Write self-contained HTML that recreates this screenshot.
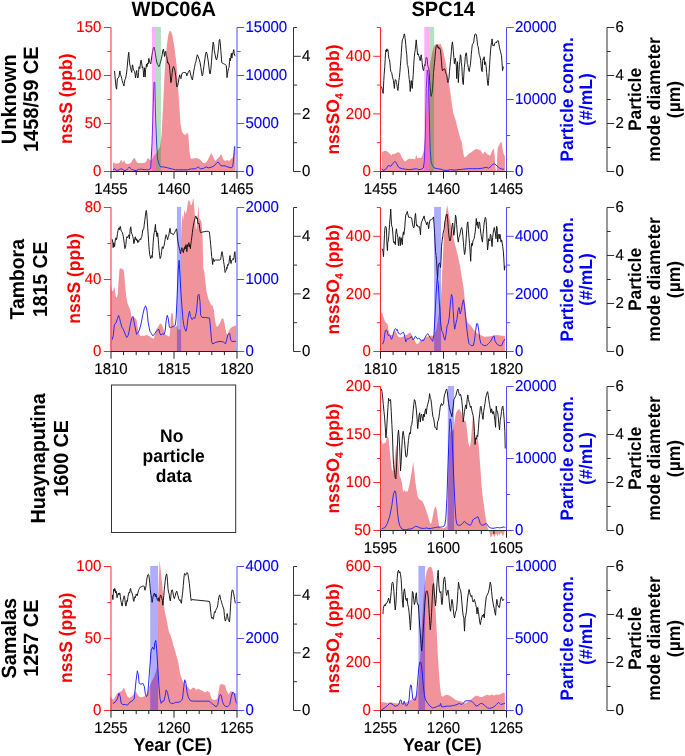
<!DOCTYPE html>
<html><head><meta charset="utf-8"><style>
html,body{margin:0;padding:0;background:#fff;width:685px;height:756px;overflow:hidden}
svg{display:block;will-change:transform}
text{font-family:"Liberation Sans",sans-serif;text-rendering:geometricPrecision}
</style></head><body>
<svg width="685" height="756" viewBox="0 0 685 756" font-family='"Liberation Sans", sans-serif'>
<rect width="685" height="756" fill="#fff"/>
<text x="0" y="0" font-size="20" fill="#000" text-anchor="middle" font-weight="bold" transform="translate(173.8 16) scale(1 1.04)">WDC06A</text>
<text x="0" y="0" font-size="20" fill="#000" text-anchor="middle" font-weight="bold" transform="translate(443.2 16) scale(1 1.04)">SPC14</text>
<path d="M112.96,171.5 L112.96,162.89 L113.69,162.27 L114.45,163.03 L115.59,163.41 L117.11,163.41 L118.25,163.41 L119.39,162.65 L120.15,161.51 L120.91,160.37 L121.52,159.99 L122.05,161.13 L122.81,162.65 L123.57,161.13 L124.1,160.37 L124.7,161.13 L125.46,163.41 L126.6,163.79 L127.74,164.02 L128.88,163.79 L130.02,163.41 L130.78,162.65 L131.54,161.89 L132.3,160.37 L133.06,159.23 L134.2,157.71 L134.96,158.47 L135.71,159.99 L136.47,161.51 L137.23,162.65 L137.99,163.03 L139.13,163.03 L140.27,163.03 L141.41,163.03 L142.55,163.03 L143.69,162.65 L144.83,162.65 L145.59,162.27 L146.34,161.13 L147.1,159.23 L147.86,158.09 L148.62,158.47 L149.38,159.61 L150.14,159.99 L150.9,160.37 L151.66,160.37 L152.42,158.85 L153.18,157.33 L153.94,155.82 L154.7,155.06 L155.46,154.3 L156.22,153.54 L157.62,150.98 L160,147.02 L161.59,135.11 L163.18,103.37 L164.57,73.6 L165.96,53.76 L167.55,39.87 L168.54,33.92 L169.53,30.94 L171.12,31.54 L172.51,35.9 L174.49,47.81 L176.48,63.68 L177.87,83.52 L179.06,103.37 L180.45,123.21 L181.84,131.14 L183.43,134.12 L185.41,135.11 L187,132.73 L188.39,135.11 L189.38,150.98 L190.37,156.94 L191.37,158.92 L193.35,158.52 L196.33,157.93 L199.31,158.92 L201.29,160.9 L203.28,162.89 L205.26,162.89 L207.25,160.9 L209.23,156.94 L211.22,152.97 L213.2,156.94 L215.19,160.9 L217.17,158.92 L219.16,156.94 L221.14,153.96 L223.13,158.92 L225.11,160.9 L227.09,159.91 L229.08,160.9 L231.06,158.92 L233.05,156.94 L235.03,147.02 L235.63,147.02 L235.63,171.5Z" fill="#f1939a" stroke="none"/>
<path d="M114.55,70.98 L115.21,78.93 L116.14,87.8 L116.61,89.21 L117.36,78.93 L118.01,77.99 L118.94,77.06 L119.88,70.98 L120.35,74.25 L121.09,76.12 L121.75,78.46 L122.21,80.79 L123.15,83.6 L123.9,85.93 L124.27,83.6 L124.83,79.86 L125.49,78.93 L126.42,74.25 L127.07,68.64 L127.64,62.1 L128.29,55.56 L128.76,52.29 L129.22,58.36 L129.69,63.97 L130.44,67.24 L131.09,70.05 L131.75,72.38 L132.31,64.91 L132.68,64.91 L133.24,68.64 L133.9,70.51 L134.55,71.45 L135.11,74.25 L135.49,77.99 L136.05,73.32 L136.7,70.51 L137.17,75.19 L137.64,77.99 L138.1,77.52 L138.57,72.38 L139.04,66.78 L139.79,68.64 L140.44,63.04 L141.09,60.23 L141.65,63.04 L142.31,67.71 L142.78,66.78 L143.24,70.51 L143.71,77.06 L144.18,72.38 L144.64,67.71 L145.11,77.06 L145.58,69.58 L146.05,67.71 L146.51,63.97 L146.98,66.78 L147.64,63.04 L148.2,63.97 L148.85,58.36 L149.5,61.17 L150.07,63.04 L150.72,63.97 L151.19,61.17 L151.93,55.56 L152.59,51.36 L153.24,48.55 L153.99,47.15 L154.74,49.95 L155.39,53.69 L156.05,58.36 L156.79,62.1 L157.54,64.44 L158.2,65.37 L158.85,66.78 L159.41,65.84 L160.07,63.5 L160.72,61.17 L161.47,58.36 L162.21,54.63 L162.87,50.42 L163.52,49.02 L164.08,53.69 L164.55,56.5 L165.02,51.82 L165.67,51.36 L166.14,55.56 L166.61,56.5 L167.07,58.36 L167.54,63.04 L168.01,62.1 L168.48,63.97 L168.94,63.97 L169.41,65.84 L169.88,70.51 L170.35,76.12 L170.81,82.66 L171.28,81.73 L171.75,77.06 L172.21,72.38 L172.68,68.64 L173.47,66.45 L173.93,67.38 L174.87,70.19 L175.8,76.73 L176.55,85.14 L176.93,87.01 L177.67,85.61 L178.42,82.34 L179.07,77.66 L179.73,74.86 L180.29,77.66 L180.94,78.6 L181.6,74.86 L182.35,72.99 L183.28,72.52 L184.21,72.52 L185.15,72.52 L186.08,72.99 L186.83,75.79 L187.49,73.93 L188.14,72.52 L188.89,71.12 L189.64,70.19 L190.29,72.99 L190.94,75.79 L191.69,78.6 L192.44,80 L193.09,75.79 L193.75,71.12 L194.5,67.38 L195.24,63.64 L195.9,61.78 L196.55,58.04 L197.3,54.77 L198.05,56.17 L198.7,58.04 L199.36,59.91 L200.1,62.71 L200.85,67.38 L201.5,72.06 L202.16,75.79 L202.72,74.86 L203.37,70.19 L204.03,65.51 L204.78,59.91 L205.52,54.3 L206.27,51.96 L206.93,53.36 L207.58,57.1 L208.33,61.78 L208.98,67.38 L209.64,72.99 L210.2,73.93 L210.85,69.25 L211.5,61.78 L212.07,53.36 L212.72,45.89 L213.19,42.15 L213.84,44.95 L214.31,50.56 L215.06,54.3 L215.8,58.04 L216.46,59.91 L217.11,58.04 L217.86,53.36 L218.61,46.82 L219.26,40.28 L219.73,39.35 L220.29,43.08 L220.85,50.56 L221.41,58.04 L221.79,62.71 L222.53,63.18 L223.47,63.64 L224.4,64.11 L225.34,64.58 L226.27,65.51 L226.74,72.06 L227.02,77.66 L227.39,74.86 L227.95,71.12 L228.51,68.32 L229.07,67.38 L229.54,61.78 L230.01,58.04 L230.48,60.84 L230.94,56.17 L231.41,53.36 L231.88,58.04 L232.35,53.36 L232.81,54.3 L233.28,51.5 L233.75,49.63 L234.21,53.36 L234.68,55.23 L235.15,56.17" fill="none" stroke="#111" stroke-width="0.95" stroke-linejoin="round"/>
<path d="M112.96,169.83 L114.99,168.72 L115.59,169.86 L116.35,170.24 L117.11,170.39 L118.25,170.09 L119.39,169.48 L120.53,169.1 L121.67,168.88 L122.81,169.48 L123.95,170.24 L125.08,170.62 L126.22,170.24 L127.36,169.1 L128.5,167.97 L129.26,167.21 L130.02,167.59 L130.78,168.72 L131.54,169.48 L132.68,169.64 L133.82,170.09 L134.96,170.39 L136.09,170.62 L137.23,170.09 L138.37,169.48 L139.51,169.33 L140.65,169.1 L141.79,169.26 L142.93,169.48 L144.07,169.64 L145.21,169.64 L146.34,169.79 L147.48,169.71 L148.62,169.64 L149.61,169.48 L150.22,168.34 L150.68,168.84 L152.07,143.05 L153.26,103.37 L154.05,81.94 L154.84,82.53 L155.64,119.24 L156.63,143.05 L157.62,158.92 L159.21,164.87 L160.6,166.86 L163.58,166.86 L167.55,167.85 L171.52,168.84 L175.49,169.83 L179.46,169.83 L183.43,169.83 L187.4,169.83 L191.37,168.84 L195.34,168.84 L198.31,166.86 L200.3,168.84 L203.28,168.44 L206.25,166.86 L208.24,167.85 L211.22,167.25 L214.19,165.87 L216.77,162.89 L218.16,161.9 L219.55,163.88 L221.14,165.87 L223.13,165.87 L225.11,165.87 L227.09,166.86 L229.08,167.25 L231.06,167.85 L232.65,166.86 L233.65,158.92 L234.44,147.02 L235.03,146.02" fill="none" stroke="#2a2aff" stroke-width="1.0" stroke-linejoin="round"/>
<rect x="152" y="26.9" width="4.1" height="144.6" fill="#ff2af0" fill-opacity="0.38"/>
<rect x="156.1" y="26.9" width="4.8" height="144.6" fill="#00a028" fill-opacity="0.3"/>
<line x1="111" y1="27.5" x2="111" y2="171.5" stroke="#ff2a2a" stroke-width="1"/>
<line x1="111" y1="171.5" x2="103.8" y2="171.5" stroke="#ff2a2a" stroke-width="1"/>
<text x="0" y="0" font-size="15" fill="#ff0000" text-anchor="end" stroke="#ff0000" stroke-width="0.15" transform="translate(101.4 176.4) scale(1 1.04)">0</text>
<line x1="111" y1="123.5" x2="103.8" y2="123.5" stroke="#ff2a2a" stroke-width="1"/>
<text x="0" y="0" font-size="15" fill="#ff0000" text-anchor="end" stroke="#ff0000" stroke-width="0.15" transform="translate(101.4 128.4) scale(1 1.04)">50</text>
<line x1="111" y1="75.5" x2="103.8" y2="75.5" stroke="#ff2a2a" stroke-width="1"/>
<text x="0" y="0" font-size="15" fill="#ff0000" text-anchor="end" stroke="#ff0000" stroke-width="0.15" transform="translate(101.4 80.4) scale(1 1.04)">100</text>
<line x1="111" y1="27.5" x2="103.8" y2="27.5" stroke="#ff2a2a" stroke-width="1"/>
<text x="0" y="0" font-size="15" fill="#ff0000" text-anchor="end" stroke="#ff0000" stroke-width="0.15" transform="translate(101.4 32.4) scale(1 1.04)">150</text>
<line x1="111" y1="147.5" x2="107.4" y2="147.5" stroke="#ff2a2a" stroke-width="1"/>
<line x1="111" y1="99.5" x2="107.4" y2="99.5" stroke="#ff2a2a" stroke-width="1"/>
<line x1="111" y1="51.5" x2="107.4" y2="51.5" stroke="#ff2a2a" stroke-width="1"/>
<line x1="237" y1="27.5" x2="237" y2="171.5" stroke="#5050ff" stroke-width="1"/>
<line x1="237" y1="171.5" x2="244.2" y2="171.5" stroke="#5050ff" stroke-width="1"/>
<text x="0" y="0" font-size="15" fill="#0000ff" text-anchor="start" stroke="#0000ff" stroke-width="0.15" transform="translate(245.5 176.4) scale(1 1.04)">0</text>
<line x1="237" y1="123.5" x2="244.2" y2="123.5" stroke="#5050ff" stroke-width="1"/>
<text x="0" y="0" font-size="15" fill="#0000ff" text-anchor="start" stroke="#0000ff" stroke-width="0.15" transform="translate(245.5 128.4) scale(1 1.04)">5000</text>
<line x1="237" y1="75.5" x2="244.2" y2="75.5" stroke="#5050ff" stroke-width="1"/>
<text x="0" y="0" font-size="15" fill="#0000ff" text-anchor="start" stroke="#0000ff" stroke-width="0.15" transform="translate(245.5 80.4) scale(1 1.04)">10000</text>
<line x1="237" y1="27.5" x2="244.2" y2="27.5" stroke="#5050ff" stroke-width="1"/>
<text x="0" y="0" font-size="15" fill="#0000ff" text-anchor="start" stroke="#0000ff" stroke-width="0.15" transform="translate(245.5 32.4) scale(1 1.04)">15000</text>
<line x1="237" y1="147.5" x2="240.6" y2="147.5" stroke="#5050ff" stroke-width="1"/>
<line x1="237" y1="99.5" x2="240.6" y2="99.5" stroke="#5050ff" stroke-width="1"/>
<line x1="237" y1="51.5" x2="240.6" y2="51.5" stroke="#5050ff" stroke-width="1"/>
<line x1="293.5" y1="27.5" x2="293.5" y2="171.5" stroke="#333" stroke-width="1"/>
<line x1="293.5" y1="171.5" x2="300.7" y2="171.5" stroke="#333" stroke-width="1"/>
<text x="0" y="0" font-size="15" fill="#000" text-anchor="start" stroke="#000" stroke-width="0.15" transform="translate(302 176.4) scale(1 1.04)">0</text>
<line x1="293.5" y1="113.9" x2="300.7" y2="113.9" stroke="#333" stroke-width="1"/>
<text x="0" y="0" font-size="15" fill="#000" text-anchor="start" stroke="#000" stroke-width="0.15" transform="translate(302 118.8) scale(1 1.04)">2</text>
<line x1="293.5" y1="56.3" x2="300.7" y2="56.3" stroke="#333" stroke-width="1"/>
<text x="0" y="0" font-size="15" fill="#000" text-anchor="start" stroke="#000" stroke-width="0.15" transform="translate(302 61.2) scale(1 1.04)">4</text>
<line x1="293.5" y1="142.7" x2="297.1" y2="142.7" stroke="#333" stroke-width="1"/>
<line x1="293.5" y1="85.1" x2="297.1" y2="85.1" stroke="#333" stroke-width="1"/>
<line x1="293.5" y1="27.5" x2="297.1" y2="27.5" stroke="#333" stroke-width="1"/>
<line x1="111" y1="171.5" x2="237" y2="171.5" stroke="#222" stroke-width="1"/>
<line x1="111" y1="171.5" x2="111" y2="178.7" stroke="#222" stroke-width="1"/>
<text x="0" y="0" font-size="15" fill="#000" text-anchor="middle" stroke="#000" stroke-width="0.15" transform="translate(111 193.7) scale(1 1.04)">1455</text>
<line x1="123.6" y1="171.5" x2="123.6" y2="175.1" stroke="#222" stroke-width="1"/>
<line x1="136.2" y1="171.5" x2="136.2" y2="175.1" stroke="#222" stroke-width="1"/>
<line x1="148.8" y1="171.5" x2="148.8" y2="175.1" stroke="#222" stroke-width="1"/>
<line x1="161.4" y1="171.5" x2="161.4" y2="175.1" stroke="#222" stroke-width="1"/>
<line x1="174" y1="171.5" x2="174" y2="178.7" stroke="#222" stroke-width="1"/>
<text x="0" y="0" font-size="15" fill="#000" text-anchor="middle" stroke="#000" stroke-width="0.15" transform="translate(174 193.7) scale(1 1.04)">1460</text>
<line x1="186.6" y1="171.5" x2="186.6" y2="175.1" stroke="#222" stroke-width="1"/>
<line x1="199.2" y1="171.5" x2="199.2" y2="175.1" stroke="#222" stroke-width="1"/>
<line x1="211.8" y1="171.5" x2="211.8" y2="175.1" stroke="#222" stroke-width="1"/>
<line x1="224.4" y1="171.5" x2="224.4" y2="175.1" stroke="#222" stroke-width="1"/>
<line x1="237" y1="171.5" x2="237" y2="178.7" stroke="#222" stroke-width="1"/>
<text x="0" y="0" font-size="15" fill="#000" text-anchor="middle" stroke="#000" stroke-width="0.15" transform="translate(237 193.7) scale(1 1.04)">1465</text>
<path d="M381.88,171.5 L381.88,152.19 L382.6,151.68 L383.62,151.17 L385.15,150.66 L386.69,151.17 L387.71,151.68 L388.73,152.7 L389.75,153.72 L390.77,154.74 L391.28,155.77 L392.1,154.23 L392.82,153.72 L393.84,154.23 L394.86,153.72 L395.88,153.21 L396.9,152.7 L397.93,152.19 L398.95,152.5 L399.97,153.21 L400.99,155.25 L402.01,157.81 L403.04,159.34 L404.06,160.87 L405.08,161.39 L406.1,160.87 L407.12,159.85 L408.15,159.34 L409.17,158.83 L410.19,158.83 L411.21,158.83 L412.23,159.04 L413.25,158.83 L414.28,159.34 L415.3,158.83 L416.01,155.77 L416.63,155.25 L417.04,157.81 L417.85,158.32 L418.87,157.81 L419.9,158.01 L420.92,158.01 L421.94,156.79 L422.76,153.72 L423.47,151.68 L424.32,147.16 L425.79,125.13 L427.5,88.42 L429.95,63.95 L432.39,51.71 L434.11,45.59 L436.06,43.88 L438.51,44.37 L440.96,44.37 L443.4,51.71 L445.85,63.95 L448.3,78.63 L450.74,95.76 L453.19,112.9 L455.64,120.24 L458.08,130.03 L460.53,139.82 L461.46,140.66 L462.69,148.83 L463.71,154.96 L464.52,157.52 L465.55,157.01 L467.08,155.47 L468.61,153.94 L470.15,152.92 L471.68,151.9 L473.21,150.87 L474.74,149.85 L475.77,149.04 L477.3,149.34 L478.83,149.65 L480.36,150.36 L481.39,151.39 L482.41,153.43 L483.43,153.94 L484.14,151.39 L484.96,151.9 L485.98,152.92 L487.01,153.94 L488.03,154.45 L489.05,154.96 L490.07,155.98 L490.89,153.94 L491.6,151.9 L492.63,150.36 L493.34,148.83 L493.95,149.34 L494.67,155.98 L495.18,164.16 L495.69,169.27 L496.2,170.29 L496.71,170.29 L497.22,155.98 L497.74,147.81 L498.45,146.79 L499.27,144.74 L500.29,142.7 L501.31,141.68 L501.82,143.72 L502.54,148.83 L503.36,152.92 L504.17,154.96 L504.89,155.98 L504.89,171.5Z" fill="#f1939a" stroke="none"/>
<path d="M381.49,86.51 L382.48,90.48 L383.17,93.45 L383.77,80.56 L384.17,74.6 L384.76,66.67 L385.16,59.72 L385.56,52.78 L385.95,49.8 L386.45,51.79 L386.94,48.81 L387.44,50.79 L387.94,49.8 L388.43,54.76 L388.93,58.73 L389.42,59.72 L389.92,62.7 L390.42,68.65 L390.91,71.63 L391.71,72.62 L392.4,76.59 L392.9,78.57 L393.39,80.56 L393.89,84.52 L394.38,88.49 L394.88,81.55 L395.38,79.56 L395.87,80.06 L396.37,82.54 L396.87,84.52 L397.36,88.49 L397.86,90.48 L398.35,86.51 L398.85,80.56 L399.35,77.58 L399.84,72.62 L400.34,66.67 L400.83,59.72 L401.33,52.78 L401.83,44.84 L402.32,39.88 L402.82,38.89 L403.31,37.9 L403.81,35.91 L404.31,33.93 L404.8,35.91 L405.3,39.88 L405.79,44.84 L406.29,50.79 L406.79,54.76 L407.28,64.68 L407.78,65.67 L408.27,68.65 L408.77,74.6 L409.27,79.56 L409.76,83.53 L410.26,91.47 L410.75,84.52 L411.25,80.56 L411.75,85.52 L412.24,88.49 L412.74,80.56 L413.23,74.6 L413.73,64.68 L414.23,57.74 L414.72,52.78 L415.22,49.8 L415.71,44.84 L416.21,39.88 L416.71,44.84 L417.2,50.79 L417.7,54.76 L418.19,53.77 L418.69,55.75 L419.19,56.75 L419.68,58.73 L420.18,60.71 L420.67,57.74 L421.17,54.76 L421.67,57.74 L422.16,62.7 L422.66,67.66 L423.15,69.64 L423.65,70.63 L424.15,66.67 L424.64,64.68 L425.14,65.67 L425.63,60.71 L426.13,57.74 L426.63,57.24 L427.12,58.73 L427.62,64.68 L428.12,66.67 L428.61,68.65 L429.11,72.62 L429.6,80.56 L430.1,86.51 L430.6,92.46 L431.09,96.43 L431.59,94.44 L432.08,92.46 L432.58,88.49 L433.08,80.56 L433.57,72.62 L434.07,66.67 L434.56,62.7 L435.06,56.75 L435.56,50.79 L436.05,46.83 L436.55,45.83 L437.04,44.84 L437.54,45.83 L438.04,47.82 L438.53,46.83 L439.03,48.81 L439.52,47.82 L440.02,48.81 L440.52,50.79 L441.01,55.75 L441.51,61.71 L442,68.65 L442.5,70.63 L442.99,69.64 L443.49,70.14 L443.98,69.15 L444.48,68.65 L444.98,69.64 L445.47,71.63 L445.97,73.61 L446.46,74.6 L446.96,76.59 L447.46,80.56 L447.95,82.54 L448.45,80.56 L448.94,78.57 L449.44,71.63 L449.94,66.67 L450.43,61.71 L450.93,56.75 L451.42,50.79 L451.92,44.84 L452.42,41.87 L452.91,45.83 L453.41,51.79 L453.9,57.74 L454.4,63.69 L454.9,60.71 L455.39,58.23 L455.89,62.7 L456.38,66.67 L456.68,78.57 L457.08,69.64 L457.48,61.71 L457.87,71.63 L458.37,82.54 L458.87,72.62 L459.36,64.68 L459.86,61.71 L460.35,54.76 L460.85,55.75 L461.35,62.7 L461.84,66.67 L462.34,76.59 L462.83,82.54 L463.33,84.52 L463.83,74.6 L464.32,67.66 L464.82,62.7 L465.31,56.75 L465.81,53.77 L466.31,52.78 L466.8,56.75 L467.3,63.69 L467.79,64.68 L468.29,67.66 L468.79,70.63 L469.28,71.63 L469.78,67.66 L470.27,65.67 L470.77,60.71 L471.27,54.76 L471.76,49.8 L472.26,44.84 L472.75,43.85 L473.25,43.35 L473.75,41.87 L474.24,37.9 L474.74,34.92 L475.23,33.93 L475.73,33.93 L476.23,34.42 L476.72,36.9 L477.22,41.87 L477.71,45.83 L478.21,46.83 L478.71,50.79 L479.2,54.76 L479.7,55.75 L480.19,57.74 L480.69,60.71 L481.19,66.67 L481.68,70.63 L482.18,71.63 L482.67,60.71 L483.17,58.73 L483.67,59.72 L484.16,56.75 L484.66,64.68 L485.15,61.71 L485.65,62.7 L486.15,66.67 L486.64,72.62 L487.14,77.58 L487.63,83.53 L488.13,85.52 L488.63,80.56 L489.12,72.62 L489.62,64.68 L490.12,56.75 L490.61,49.8 L491.11,44.84 L491.6,42.86 L492.1,38.89 L492.6,44.84 L493.09,45.83 L493.59,44.84 L494.08,45.83 L494.58,43.85 L495.08,42.86 L495.57,42.36 L496.07,41.87 L496.56,42.86 L497.06,41.37 L497.56,40.87 L498.05,40.38 L498.55,41.87 L499.04,44.84 L499.54,47.82 L500.04,49.8 L500.53,51.79 L501.03,53.77 L501.52,55.75 L502.02,62.7 L502.52,70.63 L503.01,68.65 L503.51,66.67" fill="none" stroke="#111" stroke-width="0.95" stroke-linejoin="round"/>
<path d="M381.74,169.19 L383.46,170.41 L385.9,169.19 L388.35,165.51 L390.8,166.25 L393.24,163.07 L394.96,161.35 L396.43,163.07 L398.14,166.74 L399.85,167.96 L402.3,168.7 L405.48,169.19 L409.15,169.67 L412.82,169.19 L416.49,168.7 L418.94,169.67 L421.38,169.19 L423.34,167.96 L424.32,161.84 L425.3,137.37 L426.28,88.42 L427.25,70.07 L428.23,76.18 L429.21,112.9 L430.19,149.61 L431.17,161.84 L432.39,165.51 L434.11,167.96 L437.29,168.7 L440.96,169.19 L443.4,170.16 L447.07,170.41 L450.74,169.67 L454.41,170.16 L458.08,169.67 L462.98,169.19 L467.87,168.7 L472.76,168.7 L477.66,168.7 L482.55,168.21 L486.22,167.23 L488.67,168.21 L491.12,166.25 L492.83,164.29 L494.3,163.8 L496.01,164.78 L497.72,166.74 L499.68,168.21 L502.13,169.19 L504.08,169.19" fill="none" stroke="#2a2aff" stroke-width="1.0" stroke-linejoin="round"/>
<rect x="424.3" y="26.9" width="4.9" height="144.6" fill="#ff2af0" fill-opacity="0.38"/>
<rect x="429.2" y="26.9" width="4.9" height="144.6" fill="#00a028" fill-opacity="0.3"/>
<line x1="380.5" y1="27.5" x2="380.5" y2="171.5" stroke="#ff2a2a" stroke-width="1"/>
<line x1="380.5" y1="171.5" x2="373.3" y2="171.5" stroke="#ff2a2a" stroke-width="1"/>
<text x="0" y="0" font-size="15" fill="#ff0000" text-anchor="end" stroke="#ff0000" stroke-width="0.15" transform="translate(370.9 176.4) scale(1 1.04)">0</text>
<line x1="380.5" y1="113.9" x2="373.3" y2="113.9" stroke="#ff2a2a" stroke-width="1"/>
<text x="0" y="0" font-size="15" fill="#ff0000" text-anchor="end" stroke="#ff0000" stroke-width="0.15" transform="translate(370.9 118.8) scale(1 1.04)">200</text>
<line x1="380.5" y1="56.3" x2="373.3" y2="56.3" stroke="#ff2a2a" stroke-width="1"/>
<text x="0" y="0" font-size="15" fill="#ff0000" text-anchor="end" stroke="#ff0000" stroke-width="0.15" transform="translate(370.9 61.2) scale(1 1.04)">400</text>
<line x1="380.5" y1="142.7" x2="376.9" y2="142.7" stroke="#ff2a2a" stroke-width="1"/>
<line x1="380.5" y1="85.1" x2="376.9" y2="85.1" stroke="#ff2a2a" stroke-width="1"/>
<line x1="380.5" y1="27.5" x2="376.9" y2="27.5" stroke="#ff2a2a" stroke-width="1"/>
<line x1="506.5" y1="27.5" x2="506.5" y2="171.5" stroke="#5050ff" stroke-width="1"/>
<line x1="506.5" y1="171.5" x2="513.7" y2="171.5" stroke="#5050ff" stroke-width="1"/>
<text x="0" y="0" font-size="15" fill="#0000ff" text-anchor="start" stroke="#0000ff" stroke-width="0.15" transform="translate(515 176.4) scale(1 1.04)">0</text>
<line x1="506.5" y1="99.5" x2="513.7" y2="99.5" stroke="#5050ff" stroke-width="1"/>
<text x="0" y="0" font-size="15" fill="#0000ff" text-anchor="start" stroke="#0000ff" stroke-width="0.15" transform="translate(515 104.4) scale(1 1.04)">10000</text>
<line x1="506.5" y1="27.5" x2="513.7" y2="27.5" stroke="#5050ff" stroke-width="1"/>
<text x="0" y="0" font-size="15" fill="#0000ff" text-anchor="start" stroke="#0000ff" stroke-width="0.15" transform="translate(515 32.4) scale(1 1.04)">20000</text>
<line x1="506.5" y1="135.5" x2="510.1" y2="135.5" stroke="#5050ff" stroke-width="1"/>
<line x1="506.5" y1="63.5" x2="510.1" y2="63.5" stroke="#5050ff" stroke-width="1"/>
<line x1="607" y1="27.5" x2="607" y2="171.5" stroke="#333" stroke-width="1"/>
<line x1="607" y1="171.5" x2="614.2" y2="171.5" stroke="#333" stroke-width="1"/>
<text x="0" y="0" font-size="15" fill="#000" text-anchor="start" stroke="#000" stroke-width="0.15" transform="translate(615.5 176.4) scale(1 1.04)">0</text>
<line x1="607" y1="123.5" x2="614.2" y2="123.5" stroke="#333" stroke-width="1"/>
<text x="0" y="0" font-size="15" fill="#000" text-anchor="start" stroke="#000" stroke-width="0.15" transform="translate(615.5 128.4) scale(1 1.04)">2</text>
<line x1="607" y1="75.5" x2="614.2" y2="75.5" stroke="#333" stroke-width="1"/>
<text x="0" y="0" font-size="15" fill="#000" text-anchor="start" stroke="#000" stroke-width="0.15" transform="translate(615.5 80.4) scale(1 1.04)">4</text>
<line x1="607" y1="27.5" x2="614.2" y2="27.5" stroke="#333" stroke-width="1"/>
<text x="0" y="0" font-size="15" fill="#000" text-anchor="start" stroke="#000" stroke-width="0.15" transform="translate(615.5 32.4) scale(1 1.04)">6</text>
<line x1="607" y1="147.5" x2="610.6" y2="147.5" stroke="#333" stroke-width="1"/>
<line x1="607" y1="99.5" x2="610.6" y2="99.5" stroke="#333" stroke-width="1"/>
<line x1="607" y1="51.5" x2="610.6" y2="51.5" stroke="#333" stroke-width="1"/>
<line x1="380.5" y1="171.5" x2="506.5" y2="171.5" stroke="#222" stroke-width="1"/>
<line x1="380.5" y1="171.5" x2="380.5" y2="178.7" stroke="#222" stroke-width="1"/>
<text x="0" y="0" font-size="15" fill="#000" text-anchor="middle" stroke="#000" stroke-width="0.15" transform="translate(380.5 193.7) scale(1 1.04)">1455</text>
<line x1="393.1" y1="171.5" x2="393.1" y2="175.1" stroke="#222" stroke-width="1"/>
<line x1="405.7" y1="171.5" x2="405.7" y2="175.1" stroke="#222" stroke-width="1"/>
<line x1="418.3" y1="171.5" x2="418.3" y2="175.1" stroke="#222" stroke-width="1"/>
<line x1="430.9" y1="171.5" x2="430.9" y2="175.1" stroke="#222" stroke-width="1"/>
<line x1="443.5" y1="171.5" x2="443.5" y2="178.7" stroke="#222" stroke-width="1"/>
<text x="0" y="0" font-size="15" fill="#000" text-anchor="middle" stroke="#000" stroke-width="0.15" transform="translate(443.5 193.7) scale(1 1.04)">1460</text>
<line x1="456.1" y1="171.5" x2="456.1" y2="175.1" stroke="#222" stroke-width="1"/>
<line x1="468.7" y1="171.5" x2="468.7" y2="175.1" stroke="#222" stroke-width="1"/>
<line x1="481.3" y1="171.5" x2="481.3" y2="175.1" stroke="#222" stroke-width="1"/>
<line x1="493.9" y1="171.5" x2="493.9" y2="175.1" stroke="#222" stroke-width="1"/>
<line x1="506.5" y1="171.5" x2="506.5" y2="178.7" stroke="#222" stroke-width="1"/>
<text x="0" y="0" font-size="15" fill="#000" text-anchor="middle" stroke="#000" stroke-width="0.15" transform="translate(506.5 193.7) scale(1 1.04)">1465</text>
<path d="M110.51,351.5 L110.51,282.62 L111.77,290.16 L113.03,291.41 L114.28,286.39 L114.91,290.16 L115.79,296.44 L116.8,297.7 L117.8,293.93 L118.68,278.85 L119.56,268.8 L120.57,268.17 L121.82,268.8 L123.33,269.42 L124.09,272.57 L124.97,282.62 L125.85,292.67 L126.85,300.21 L127.48,303.35 L128.36,305.24 L129.36,307.75 L130.37,310.26 L131.25,315.29 L131.88,317.8 L133.14,317.8 L134.39,317.8 L135.65,318.43 L136.65,320.32 L137.53,326.6 L138.79,332.88 L140.05,335.4 L141.3,336.02 L142.56,335.4 L143.82,336.02 L145.07,335.4 L146.33,334.77 L147.59,335.4 L148.84,336.02 L150.1,336.65 L151.36,337.91 L152.61,338.54 L153.87,338.54 L155.13,334.14 L156.39,329.11 L157.64,327.86 L158.9,325.34 L160.16,323.46 L161.41,324.09 L162.67,326.6 L163.93,330.37 L165.18,334.14 L166.44,335.4 L167.7,335.4 L168.95,336.65 L169.58,335.4 L170.21,330.37 L170.84,316.55 L171.47,312.78 L172.09,314.03 L172.72,312.78 L173.35,322.83 L174.61,326.6 L175.86,326.6 L177.12,325.34 L177.4,327 L178,329.5 L180.6,329.5 L180.9,280 L181.1,240 L181.6,225 L182.5,215 L183.1,216.93 L183.47,221.28 L183.8,214.71 L184.45,210.11 L185.11,212.08 L185.77,214.05 L186.43,212.08 L187.08,208.14 L187.74,203.54 L188.4,200.91 L189.05,199.93 L189.71,201.24 L190.37,203.54 L191.02,205.51 L191.68,204.86 L192.34,202.23 L193,198.94 L193.32,198.29 L193.65,200.26 L193.98,204.2 L194.31,208.14 L194.64,212.08 L194.97,216.02 L195.3,221.28 L195.62,225.88 L195.95,229.17 L196.28,229.82 L196.61,227.19 L196.94,222.6 L197.27,219.97 L197.6,214.71 L197.92,209.45 L198.25,205.51 L198.58,208.14 L198.91,214.71 L199.24,218 L199.89,219.31 L200.55,219.97 L201.21,221.28 L201.54,222.6 L201.87,227.85 L202.19,231.79 L202.52,235.74 L203.2,267.72 L204.26,271.96 L205.31,280.42 L206.37,291.01 L207.43,295.24 L208.49,299.47 L209.54,301.59 L210.6,303.7 L211.66,305.82 L212.72,305.82 L213.78,310.05 L214.83,318.52 L215.89,324.87 L216.95,326.98 L218.01,325.93 L220.12,322.75 L221.81,318.52 L223.3,318.52 L224.35,322.75 L225.41,329.1 L226.47,333.33 L227.53,335.45 L228.58,331.22 L230.7,328.04 L232.81,326.56 L234.93,325.93 L235.99,324.87 L235.99,351.5Z" fill="#f1939a" stroke="none"/>
<path d="M112.19,239.23 L112.79,242.7 L113.18,247.66 L113.78,242.7 L114.17,244.68 L114.57,246.67 L114.97,242.7 L115.46,238.73 L115.96,237.74 L116.46,239.72 L116.95,237.74 L117.45,233.77 L117.94,230.79 L118.44,228.81 L118.94,227.82 L119.43,229.8 L119.93,226.83 L120.42,226.33 L120.92,229.8 L121.42,231.29 L121.91,231.79 L122.41,232.78 L122.9,234.76 L123.4,236.75 L123.9,240.71 L124.39,244.68 L124.89,248.65 L125.38,247.66 L125.88,244.68 L126.38,238.73 L126.87,236.75 L127.37,237.74 L127.87,236.75 L128.36,235.75 L128.86,234.76 L129.35,238.73 L129.85,233.77 L130.35,227.82 L130.84,226.83 L131.34,231.79 L131.83,233.77 L132.33,234.76 L132.83,236.75 L133.32,238.73 L133.82,243.69 L134.31,242.7 L134.81,238.73 L135.31,236.75 L135.8,239.72 L136.3,238.73 L136.79,240.71 L137.29,239.72 L137.79,242.7 L138.28,240.71 L138.78,241.71 L139.27,239.72 L139.77,239.23 L140.27,238.73 L140.76,239.72 L141.26,237.74 L141.75,236.75 L142.25,233.77 L142.75,229.8 L143.24,229.8 L143.74,228.81 L144.23,224.84 L144.73,220.87 L145.23,216.9 L145.72,212.94 L146.22,210.46 L146.71,212.94 L147.21,219.88 L147.71,227.82 L148.2,234.76 L148.7,242.7 L149.19,249.64 L149.69,254.6 L150.19,256.59 L150.68,258.57 L151.18,256.59 L151.67,255.6 L152.17,257.58 L152.67,250.63 L153.16,242.7 L153.66,236.75 L154.15,232.78 L154.65,230.79 L155.15,226.83 L155.44,224.35 L155.84,231.79 L156.24,230.79 L156.63,234.76 L157.13,236.75 L157.63,232.78 L158.12,237.74 L158.62,244.68 L159.12,250.63 L159.61,255.6 L160.11,258.57 L160.6,257.58 L161.1,255.6 L161.6,251.63 L162.09,247.66 L162.59,246.67 L163.08,248.65 L163.58,246.67 L164.08,245.67 L164.57,242.7 L165.07,239.72 L165.56,236.75 L166.06,234.76 L166.56,235.75 L167.05,237.74 L167.55,239.72 L168.04,237.74 L168.54,236.75 L169.04,233.77 L169.53,230.79 L170.03,228.31 L170.52,231.79 L171.02,233.77 L171.52,233.27 L172.01,233.77 L173.5,234.76 L173.99,233.77 L174.49,232.78 L174.98,231.79 L175.48,230.79 L175.98,229.8 L176.47,228.81 L176.97,231.79 L177.46,237.74 L177.96,241.71 L178.46,244.68 L178.95,246.67 L179.45,248.65 L179.94,250.63 L180.44,253.61 L180.94,251.63 L181.43,248.65 L181.93,247.66 L182.42,249.64 L182.92,251.63 L183.42,252.62 L183.91,248.65 L184.41,249.64 L184.9,246.67 L185.4,248.65 L185.9,244.68 L186.39,246.67 L186.89,251.63 L187.38,244.68 L187.88,246.67 L188.38,244.68 L188.87,242.7 L189.37,246.67 L189.87,244.68 L190.36,248.65 L190.86,243.69 L191.35,240.71 L191.85,236.75 L192.35,232.78 L192.84,228.81 L193.34,225.83 L193.83,222.86 L194.33,220.87 L194.83,218.89 L195.32,216.9 L195.82,215.91 L196.31,216.9 L196.81,218.89 L197.31,217.9 L197.8,222.86 L198.3,223.85 L198.79,222.86 L199.29,224.84 L199.79,228.81 L200.28,231.79 L200.78,232.78 L201.77,232.28 L202.76,231.98 L204.75,231.59 L206.73,231.29 L208.71,231.29 L209.21,231.79 L209.71,234.76 L210.2,239.72 L210.7,244.68 L211.19,250.63 L211.69,256.59 L212.19,260.56 L212.68,264.52 L213.18,258.57 L213.67,260.56 L214.17,261.55 L214.67,260.06 L215.66,260.06 L216.65,260.06 L217.64,260.06 L218.63,260.06 L219.63,260.06 L220.62,259.56 L221.12,256.59 L221.61,252.62 L222.11,251.63 L222.6,254.6 L223.1,257.58 L223.6,261.55 L224.09,264.52 L224.59,268.49 L225.08,272.46 L225.58,271.47 L226.08,270.48 L226.57,267.5 L227.07,268.49 L227.56,264.52 L228.06,265.52 L228.56,264.52 L229.05,262.54 L229.55,257.58 L230.04,255.6 L230.54,261.55 L231.04,263.53 L231.53,260.56 L232.03,260.56 L232.52,259.56 L233.02,258.57 L233.52,259.56 L234.01,257.58 L234.51,252.62 L235,251.63 L235.5,262.54" fill="none" stroke="#111" stroke-width="0.95" stroke-linejoin="round"/>
<path d="M112.23,339.68 L113.29,335.45 L114.35,324.87 L116.04,322.75 L117.52,318.52 L118.58,315.34 L119.64,318.52 L120.69,322.75 L121.75,326.98 L123.23,329.1 L124.92,333.33 L126.62,337.57 L128.1,335.45 L129.16,331.22 L130.21,324.87 L131.69,318.52 L132.96,316.4 L133.81,320.63 L135.08,326.98 L136.56,334.39 L137.62,333.33 L139.31,330.16 L140.79,324.87 L142.91,314.29 L144.39,307.94 L145.66,305.82 L146.93,310.05 L148.19,322.75 L149.89,331.22 L151.37,333.33 L152.43,335.45 L153.48,335.45 L154.96,333.33 L156.23,331.22 L157.71,330.16 L158.77,329.1 L159.83,333.33 L160.89,335.03 L162.58,333.76 L164.06,334.39 L165.12,331.22 L166.18,320.63 L167.23,315.34 L168.29,318.52 L169.35,326.98 L170.41,328.04 L171.47,326.98 L173.58,326.56 L175.27,325.29 L176.12,318.52 L177.18,295.24 L178.23,269.84 L179.08,260.32 L179.93,274.07 L180.98,293.12 L182.04,307.94 L183.1,320.63 L184.16,326.98 L185.85,331.22 L186.7,329.1 L187.97,318.52 L189.45,311.11 L190.5,316.4 L192.2,319.58 L193.68,317.46 L194.74,318.52 L196.43,312.17 L197.91,295.24 L198.97,294.18 L200.02,301.59 L200.66,315.34 L202.14,317.46 L205.31,317.46 L209.54,318.1 L210.6,329.1 L211.66,341.8 L212.72,343.92 L215.89,342.22 L220.12,341.38 L223.3,341.8 L225.41,343.92 L226.47,340.74 L227.95,334.39 L229.64,333.33 L230.7,339.68 L231.76,341.38 L234.93,341.38 L235.99,341.38" fill="none" stroke="#2a2aff" stroke-width="1.0" stroke-linejoin="round"/>
<rect x="176.9" y="206.9" width="4.2" height="144.6" fill="#0000ff" fill-opacity="0.32"/>
<line x1="111" y1="207.5" x2="111" y2="351.5" stroke="#ff2a2a" stroke-width="1"/>
<line x1="111" y1="351.5" x2="103.8" y2="351.5" stroke="#ff2a2a" stroke-width="1"/>
<text x="0" y="0" font-size="15" fill="#ff0000" text-anchor="end" stroke="#ff0000" stroke-width="0.15" transform="translate(101.4 356.4) scale(1 1.04)">0</text>
<line x1="111" y1="279.5" x2="103.8" y2="279.5" stroke="#ff2a2a" stroke-width="1"/>
<text x="0" y="0" font-size="15" fill="#ff0000" text-anchor="end" stroke="#ff0000" stroke-width="0.15" transform="translate(101.4 284.4) scale(1 1.04)">40</text>
<line x1="111" y1="207.5" x2="103.8" y2="207.5" stroke="#ff2a2a" stroke-width="1"/>
<text x="0" y="0" font-size="15" fill="#ff0000" text-anchor="end" stroke="#ff0000" stroke-width="0.15" transform="translate(101.4 212.4) scale(1 1.04)">80</text>
<line x1="111" y1="315.5" x2="107.4" y2="315.5" stroke="#ff2a2a" stroke-width="1"/>
<line x1="111" y1="243.5" x2="107.4" y2="243.5" stroke="#ff2a2a" stroke-width="1"/>
<line x1="237" y1="207.5" x2="237" y2="351.5" stroke="#5050ff" stroke-width="1"/>
<line x1="237" y1="351.5" x2="244.2" y2="351.5" stroke="#5050ff" stroke-width="1"/>
<text x="0" y="0" font-size="15" fill="#0000ff" text-anchor="start" stroke="#0000ff" stroke-width="0.15" transform="translate(245.5 356.4) scale(1 1.04)">0</text>
<line x1="237" y1="279.5" x2="244.2" y2="279.5" stroke="#5050ff" stroke-width="1"/>
<text x="0" y="0" font-size="15" fill="#0000ff" text-anchor="start" stroke="#0000ff" stroke-width="0.15" transform="translate(245.5 284.4) scale(1 1.04)">1000</text>
<line x1="237" y1="207.5" x2="244.2" y2="207.5" stroke="#5050ff" stroke-width="1"/>
<text x="0" y="0" font-size="15" fill="#0000ff" text-anchor="start" stroke="#0000ff" stroke-width="0.15" transform="translate(245.5 212.4) scale(1 1.04)">2000</text>
<line x1="237" y1="315.5" x2="240.6" y2="315.5" stroke="#5050ff" stroke-width="1"/>
<line x1="237" y1="243.5" x2="240.6" y2="243.5" stroke="#5050ff" stroke-width="1"/>
<line x1="293.5" y1="207.5" x2="293.5" y2="351.5" stroke="#333" stroke-width="1"/>
<line x1="293.5" y1="351.5" x2="300.7" y2="351.5" stroke="#333" stroke-width="1"/>
<text x="0" y="0" font-size="15" fill="#000" text-anchor="start" stroke="#000" stroke-width="0.15" transform="translate(302 356.4) scale(1 1.04)">0</text>
<line x1="293.5" y1="293.9" x2="300.7" y2="293.9" stroke="#333" stroke-width="1"/>
<text x="0" y="0" font-size="15" fill="#000" text-anchor="start" stroke="#000" stroke-width="0.15" transform="translate(302 298.8) scale(1 1.04)">2</text>
<line x1="293.5" y1="236.3" x2="300.7" y2="236.3" stroke="#333" stroke-width="1"/>
<text x="0" y="0" font-size="15" fill="#000" text-anchor="start" stroke="#000" stroke-width="0.15" transform="translate(302 241.2) scale(1 1.04)">4</text>
<line x1="293.5" y1="322.7" x2="297.1" y2="322.7" stroke="#333" stroke-width="1"/>
<line x1="293.5" y1="265.1" x2="297.1" y2="265.1" stroke="#333" stroke-width="1"/>
<line x1="293.5" y1="207.5" x2="297.1" y2="207.5" stroke="#333" stroke-width="1"/>
<line x1="111" y1="351.5" x2="237" y2="351.5" stroke="#222" stroke-width="1"/>
<line x1="111" y1="351.5" x2="111" y2="358.7" stroke="#222" stroke-width="1"/>
<text x="0" y="0" font-size="15" fill="#000" text-anchor="middle" stroke="#000" stroke-width="0.15" transform="translate(111 373.7) scale(1 1.04)">1810</text>
<line x1="123.6" y1="351.5" x2="123.6" y2="355.1" stroke="#222" stroke-width="1"/>
<line x1="136.2" y1="351.5" x2="136.2" y2="355.1" stroke="#222" stroke-width="1"/>
<line x1="148.8" y1="351.5" x2="148.8" y2="355.1" stroke="#222" stroke-width="1"/>
<line x1="161.4" y1="351.5" x2="161.4" y2="355.1" stroke="#222" stroke-width="1"/>
<line x1="174" y1="351.5" x2="174" y2="358.7" stroke="#222" stroke-width="1"/>
<text x="0" y="0" font-size="15" fill="#000" text-anchor="middle" stroke="#000" stroke-width="0.15" transform="translate(174 373.7) scale(1 1.04)">1815</text>
<line x1="186.6" y1="351.5" x2="186.6" y2="355.1" stroke="#222" stroke-width="1"/>
<line x1="199.2" y1="351.5" x2="199.2" y2="355.1" stroke="#222" stroke-width="1"/>
<line x1="211.8" y1="351.5" x2="211.8" y2="355.1" stroke="#222" stroke-width="1"/>
<line x1="224.4" y1="351.5" x2="224.4" y2="355.1" stroke="#222" stroke-width="1"/>
<line x1="237" y1="351.5" x2="237" y2="358.7" stroke="#222" stroke-width="1"/>
<text x="0" y="0" font-size="15" fill="#000" text-anchor="middle" stroke="#000" stroke-width="0.15" transform="translate(237 373.7) scale(1 1.04)">1820</text>
<path d="M381.11,351.5 L381.11,312.85 L381.88,312.26 L382.6,314.31 L383.62,317.37 L384.64,320.44 L385.66,322.48 L386.99,323.5 L387.71,324.52 L388.22,328.61 L389.04,332.7 L390.06,334.74 L391.08,335.25 L392.31,334.74 L393.33,333.72 L394.35,331.68 L395.37,330.66 L396.39,332.7 L397.42,335.25 L398.44,336.79 L399.46,337.3 L400.48,337.3 L401.5,337.3 L402.52,336.79 L403.55,336.28 L404.57,335.77 L405.59,335.25 L406.61,334.74 L407.63,334.23 L408.66,333.21 L409.68,332.7 L410.5,332.7 L411.21,333.72 L412.23,335.77 L413.25,337.81 L414.28,339.85 L415.3,341.9 L416.32,343.43 L417.34,343.94 L418.36,343.43 L419.39,341.9 L420.41,340.36 L421.43,339.85 L422.45,339.34 L423.47,338.83 L424.49,338.32 L425.52,337.3 L426.54,336.79 L427.56,336.58 L428.58,336.28 L429.6,335.97 L430.63,335.77 L431.65,335.77 L432.67,335.97 L433.96,334.68 L436.15,330.31 L438.33,317.22 L440.52,304.12 L441.61,286.66 L442.7,260.47 L443.79,238.65 L444.88,221.19 L445.98,212.46 L447.07,204.82 L448.16,210.28 L449.25,216.82 L451.44,227.74 L453.62,238.65 L455.8,247.38 L457.99,256.11 L460.17,267.02 L461.92,277.93 L463.45,286.66 L464.54,297.58 L465.63,310.67 L466.72,319.4 L467.82,322.67 L468.91,323.76 L471.09,325.95 L473.27,329.22 L475.46,331.4 L477.64,333.59 L479.83,334.68 L482.01,335.77 L484.19,336.86 L488.56,336.42 L492.93,335.77 L497.3,335.11 L501.67,335.77 L504.94,335.77 L504.94,351.5Z" fill="#f1939a" stroke="none"/>
<path d="M382.18,248.65 L382.58,250.63 L382.98,251.63 L383.47,256.59 L383.97,246.67 L384.46,234.76 L384.96,227.82 L385.46,226.33 L385.95,226.83 L386.45,228.81 L386.94,244.68 L387.44,250.63 L387.74,242.7 L388.13,241.71 L388.73,236.75 L389.13,230.79 L389.52,224.84 L389.92,219.88 L390.42,214.92 L390.71,208.97 L391.11,216.9 L391.51,224.84 L391.9,226.33 L392.4,227.82 L392.9,234.76 L393.39,240.71 L393.89,242.7 L394.38,241.71 L394.88,243.69 L395.38,244.68 L395.67,234.76 L396.07,230.79 L396.47,228.81 L396.87,232.78 L397.36,234.76 L397.86,237.74 L398.35,244.68 L398.65,245.67 L399.05,238.73 L399.44,237.74 L399.84,236.75 L400.34,245.67 L400.83,238.73 L401.33,237.74 L401.83,242.7 L402.32,244.68 L402.62,238.73 L403.02,233.77 L403.41,231.79 L403.81,234.76 L404.31,231.79 L404.8,226.83 L405.3,219.88 L405.79,214.92 L406.29,213.93 L406.79,212.94 L407.28,211.45 L407.78,213.93 L408.27,215.91 L408.77,217.4 L409.76,217.4 L410.75,217.4 L411.55,217.9 L411.94,219.88 L412.34,222.86 L412.74,224.84 L413.23,226.83 L413.73,227.82 L414.23,226.83 L414.72,219.88 L415.22,214.92 L415.52,213.43 L415.91,217.9 L416.31,223.85 L416.71,225.83 L417.2,224.84 L417.7,226.33 L418.19,227.32 L418.69,226.83 L419.19,226.33 L419.68,227.82 L420.18,231.79 L420.48,234.76 L420.87,226.83 L421.27,222.86 L421.67,221.87 L422.16,220.87 L422.66,218.89 L423.15,218.89 L423.65,216.9 L424.15,215.91 L424.64,218.89 L425.14,220.87 L425.63,221.87 L426.13,222.86 L426.63,224.84 L427.12,222.86 L427.62,221.87 L428.12,224.84 L428.61,228.81 L429.11,224.84 L429.6,221.87 L430.1,219.88 L430.6,219.88 L431.59,219.38 L432.58,218.89 L433.08,217.9 L433.57,216.9 L434.07,224.84 L434.56,232.78 L435.06,242.7 L435.56,251.63 L436.05,255.6 L436.55,260.56 L437.04,270.48 L437.54,278.41 L438.04,268.49 L438.53,264.52 L439.03,263.53 L439.52,263.04 L440.02,264.52 L440.52,267.5 L441.01,260.56 L441.51,246.67 L442,241.71 L442.5,237.74 L442.56,238.75 L443.12,233.12 L443.69,230.87 L444.25,228.62 L444.81,221.87 L445.37,219.62 L445.94,216.25 L446.5,214.56 L447.06,214 L447.62,218.5 L448.19,227.5 L448.75,234.25 L449.31,238.75 L449.87,241 L450.44,239.87 L451,236.5 L451.56,230.87 L452.12,225.25 L452.69,223 L453.25,229.75 L453.81,235.37 L454.37,232 L454.94,223 L455.5,215.12 L456.06,217.37 L456.62,224.12 L457.19,232 L457.75,238.75 L458.31,242.12 L458.87,237.62 L459.44,236.5 L460,234.25 L460.56,230.87 L461.12,228.62 L461.69,227.5 L462.25,229.75 L462.81,235.37 L463.37,242.12 L463.93,248.87 L464.5,254.49 L465.06,252.24 L465.62,246.62 L466.18,238.75 L466.75,229.75 L467.31,223 L467.87,221.87 L468.43,229.75 L469,237.62 L469.56,243.25 L470.12,252.24 L470.68,261.24 L471.25,247.74 L471.81,243.25 L472.37,245.49 L472.93,241 L473.5,239.87 L474.06,238.75 L474.62,235.37 L475.18,232 L475.75,226.37 L476.31,218.5 L476.87,225.25 L477.43,221.87 L478,227.5 L478.56,228.62 L479.12,221.87 L479.68,223 L480.25,227.5 L480.81,233.12 L481.37,236.5 L481.93,239.87 L482.49,242.12 L483.06,234.25 L483.62,228.62 L484.18,223 L484.74,219.62 L485.31,217.37 L485.87,218.5 L486.43,225.25 L486.99,238.75 L487.56,249.99 L488.12,245.49 L488.68,238.75 L489.24,239.87 L489.81,241 L490.37,234.25 L490.93,235.37 L491.49,241 L492.06,246.62 L492.62,237.62 L493.18,233.12 L493.74,229.75 L494.31,227.5 L494.87,230.87 L495.43,233.12 L495.99,238.75 L496.56,226.37 L497.12,227.5 L497.68,242.12 L498.24,235.37 L498.81,234.25 L499.37,238.75 L499.93,234.25 L500.49,237.62 L501.06,242.12 L501.62,239.87 L502.18,243.25 L502.74,246.62 L503.3,251.12 L503.87,258.99 L504.43,270.24 L504.99,265.74" fill="none" stroke="#111" stroke-width="0.95" stroke-linejoin="round"/>
<path d="M382.09,343.94 L383.11,343.43 L383.93,340.87 L384.64,334.74 L385.36,330.66 L386.17,330.15 L386.99,330.66 L387.71,333.72 L388.42,335.77 L389.24,334.74 L390.06,335.77 L390.77,337.81 L391.49,339.34 L392.31,337.81 L393.12,334.74 L393.84,331.68 L394.55,329.63 L395.37,328.61 L396.19,329.12 L396.9,330.66 L397.42,329.63 L397.93,331.68 L398.44,333.21 L399.46,333.72 L400.28,334.23 L400.99,333.72 L401.71,333.21 L402.52,332.7 L403.34,332.19 L404.06,333.72 L404.77,336.79 L405.39,339.85 L405.79,341.9 L406.41,340.36 L407.12,338.83 L407.84,338.63 L408.66,338.83 L409.47,338.32 L410.19,337.81 L410.9,336.79 L411.52,336.28 L412.23,338.32 L412.95,339.85 L413.77,339.34 L414.58,337.81 L415.3,336.28 L416.01,336.79 L416.83,338.32 L417.65,338.83 L418.36,338.32 L419.08,338.32 L419.9,338.83 L420.71,340.36 L421.43,340.87 L422.14,340.36 L422.96,340.87 L423.78,340.36 L424.49,338.83 L425.21,337.3 L426.03,335.77 L426.85,334.74 L427.56,333.72 L428.28,334.23 L429.09,335.77 L429.91,337.3 L430.63,338.32 L431.34,339.34 L432.16,340.36 L432.67,341.39 L433.96,334.68 L435.06,315.03 L436.15,293.21 L437.24,277.93 L438.33,284.48 L439.42,304.12 L440.52,321.58 L441.61,330.31 L442.7,332.49 L443.79,336.86 L444.88,340.13 L445.98,334.68 L447.07,325.95 L448.16,323.76 L449.25,317.22 L450.34,304.12 L451.44,294.3 L452.53,297.58 L453.18,310.67 L454.06,323.76 L454.71,329.22 L455.8,323.76 L456.9,319.4 L457.99,310.67 L459.08,307.4 L460.17,313.94 L461.26,310.67 L462.36,304.12 L463.45,299.76 L464.54,306.31 L465.63,317.22 L466.72,328.13 L467.82,336.86 L468.91,343.41 L471.09,345.59 L473.27,345.59 L474.37,341.22 L475.46,332.49 L476.55,323.76 L477.64,323.76 L478.73,330.31 L479.83,339.04 L480.92,343.41 L482.01,344.5 L484.19,345.59 L486.38,345.59 L488.56,343.41 L490.75,341.22 L492.93,336.86 L494.02,335.77 L495.11,341.22 L497.3,344.5 L499.48,345.59 L501.67,345.59 L503.41,341.22 L504.94,339.04" fill="none" stroke="#2a2aff" stroke-width="1.0" stroke-linejoin="round"/>
<rect x="434.1" y="206.9" width="6.9" height="144.6" fill="#0000ff" fill-opacity="0.32"/>
<line x1="380.5" y1="207.5" x2="380.5" y2="351.5" stroke="#ff2a2a" stroke-width="1"/>
<line x1="380.5" y1="351.5" x2="373.3" y2="351.5" stroke="#ff2a2a" stroke-width="1"/>
<text x="0" y="0" font-size="15" fill="#ff0000" text-anchor="end" stroke="#ff0000" stroke-width="0.15" transform="translate(370.9 356.4) scale(1 1.04)">0</text>
<line x1="380.5" y1="293.9" x2="373.3" y2="293.9" stroke="#ff2a2a" stroke-width="1"/>
<text x="0" y="0" font-size="15" fill="#ff0000" text-anchor="end" stroke="#ff0000" stroke-width="0.15" transform="translate(370.9 298.8) scale(1 1.04)">200</text>
<line x1="380.5" y1="236.3" x2="373.3" y2="236.3" stroke="#ff2a2a" stroke-width="1"/>
<text x="0" y="0" font-size="15" fill="#ff0000" text-anchor="end" stroke="#ff0000" stroke-width="0.15" transform="translate(370.9 241.2) scale(1 1.04)">400</text>
<line x1="380.5" y1="322.7" x2="376.9" y2="322.7" stroke="#ff2a2a" stroke-width="1"/>
<line x1="380.5" y1="265.1" x2="376.9" y2="265.1" stroke="#ff2a2a" stroke-width="1"/>
<line x1="380.5" y1="207.5" x2="376.9" y2="207.5" stroke="#ff2a2a" stroke-width="1"/>
<line x1="506.5" y1="207.5" x2="506.5" y2="351.5" stroke="#5050ff" stroke-width="1"/>
<line x1="506.5" y1="351.5" x2="513.7" y2="351.5" stroke="#5050ff" stroke-width="1"/>
<text x="0" y="0" font-size="15" fill="#0000ff" text-anchor="start" stroke="#0000ff" stroke-width="0.15" transform="translate(515 356.4) scale(1 1.04)">0</text>
<line x1="506.5" y1="293.9" x2="513.7" y2="293.9" stroke="#5050ff" stroke-width="1"/>
<text x="0" y="0" font-size="15" fill="#0000ff" text-anchor="start" stroke="#0000ff" stroke-width="0.15" transform="translate(515 298.8) scale(1 1.04)">2000</text>
<line x1="506.5" y1="236.3" x2="513.7" y2="236.3" stroke="#5050ff" stroke-width="1"/>
<text x="0" y="0" font-size="15" fill="#0000ff" text-anchor="start" stroke="#0000ff" stroke-width="0.15" transform="translate(515 241.2) scale(1 1.04)">4000</text>
<line x1="506.5" y1="322.7" x2="510.1" y2="322.7" stroke="#5050ff" stroke-width="1"/>
<line x1="506.5" y1="265.1" x2="510.1" y2="265.1" stroke="#5050ff" stroke-width="1"/>
<line x1="506.5" y1="207.5" x2="510.1" y2="207.5" stroke="#5050ff" stroke-width="1"/>
<line x1="607" y1="207.5" x2="607" y2="351.5" stroke="#333" stroke-width="1"/>
<line x1="607" y1="351.5" x2="614.2" y2="351.5" stroke="#333" stroke-width="1"/>
<text x="0" y="0" font-size="15" fill="#000" text-anchor="start" stroke="#000" stroke-width="0.15" transform="translate(615.5 356.4) scale(1 1.04)">0</text>
<line x1="607" y1="303.5" x2="614.2" y2="303.5" stroke="#333" stroke-width="1"/>
<text x="0" y="0" font-size="15" fill="#000" text-anchor="start" stroke="#000" stroke-width="0.15" transform="translate(615.5 308.4) scale(1 1.04)">2</text>
<line x1="607" y1="255.5" x2="614.2" y2="255.5" stroke="#333" stroke-width="1"/>
<text x="0" y="0" font-size="15" fill="#000" text-anchor="start" stroke="#000" stroke-width="0.15" transform="translate(615.5 260.4) scale(1 1.04)">4</text>
<line x1="607" y1="207.5" x2="614.2" y2="207.5" stroke="#333" stroke-width="1"/>
<text x="0" y="0" font-size="15" fill="#000" text-anchor="start" stroke="#000" stroke-width="0.15" transform="translate(615.5 212.4) scale(1 1.04)">6</text>
<line x1="607" y1="327.5" x2="610.6" y2="327.5" stroke="#333" stroke-width="1"/>
<line x1="607" y1="279.5" x2="610.6" y2="279.5" stroke="#333" stroke-width="1"/>
<line x1="607" y1="231.5" x2="610.6" y2="231.5" stroke="#333" stroke-width="1"/>
<line x1="380.5" y1="351.5" x2="506.5" y2="351.5" stroke="#222" stroke-width="1"/>
<line x1="380.5" y1="351.5" x2="380.5" y2="358.7" stroke="#222" stroke-width="1"/>
<text x="0" y="0" font-size="15" fill="#000" text-anchor="middle" stroke="#000" stroke-width="0.15" transform="translate(380.5 373.7) scale(1 1.04)">1810</text>
<line x1="393.1" y1="351.5" x2="393.1" y2="355.1" stroke="#222" stroke-width="1"/>
<line x1="405.7" y1="351.5" x2="405.7" y2="355.1" stroke="#222" stroke-width="1"/>
<line x1="418.3" y1="351.5" x2="418.3" y2="355.1" stroke="#222" stroke-width="1"/>
<line x1="430.9" y1="351.5" x2="430.9" y2="355.1" stroke="#222" stroke-width="1"/>
<line x1="443.5" y1="351.5" x2="443.5" y2="358.7" stroke="#222" stroke-width="1"/>
<text x="0" y="0" font-size="15" fill="#000" text-anchor="middle" stroke="#000" stroke-width="0.15" transform="translate(443.5 373.7) scale(1 1.04)">1815</text>
<line x1="456.1" y1="351.5" x2="456.1" y2="355.1" stroke="#222" stroke-width="1"/>
<line x1="468.7" y1="351.5" x2="468.7" y2="355.1" stroke="#222" stroke-width="1"/>
<line x1="481.3" y1="351.5" x2="481.3" y2="355.1" stroke="#222" stroke-width="1"/>
<line x1="493.9" y1="351.5" x2="493.9" y2="355.1" stroke="#222" stroke-width="1"/>
<line x1="506.5" y1="351.5" x2="506.5" y2="358.7" stroke="#222" stroke-width="1"/>
<text x="0" y="0" font-size="15" fill="#000" text-anchor="middle" stroke="#000" stroke-width="0.15" transform="translate(506.5 373.7) scale(1 1.04)">1820</text>
<path d="M381.29,530.5 L381.29,440.21 L382.87,444.71 L383.99,442.46 L385.11,443.59 L386.24,440.21 L387.36,435.72 L388.48,437.96 L389.61,449.21 L390.73,460.45 L391.85,469.45 L392.98,471.69 L394.1,464.95 L395.22,453.7 L396.35,444.71 L397.47,449.21 L398.6,464.95 L399.72,476.19 L400.84,478.44 L401.97,482.94 L403.09,491.93 L404.21,489.68 L405.34,491.93 L406.46,490.81 L407.58,491.93 L408.71,487.44 L409.83,482.94 L410.96,476.19 L412.08,469.45 L413.2,461.58 L414.33,471.69 L415.45,482.94 L416.57,489.68 L417.7,496.43 L418.82,498.68 L419.94,499.8 L422.19,500.93 L424.44,505.43 L426.69,512.17 L428.93,518.92 L430.06,523.41 L431.18,523.41 L432.3,518.92 L433.43,512.17 L434.55,507.67 L435.67,506.55 L436.8,509.92 L437.92,518.92 L439.04,525.66 L440.17,527.91 L442.42,528.36 L444.66,527.91 L446.91,525.66 L448.03,487.44 L449.16,449.21 L450.28,433.47 L451.4,428.97 L452.53,431.22 L453.65,428.97 L454.78,419.97 L455.9,413.23 L457.02,410.98 L458.15,409.85 L459.27,408.73 L460.39,410.98 L461.52,413.23 L462.64,419.97 L463.76,422.22 L464.89,419.97 L466.01,422.22 L467.13,431.22 L468.26,442.46 L469.38,446.96 L470.51,444.71 L471.63,431.22 L472.75,417.73 L473.88,419.97 L475,435.72 L476.12,442.46 L477.25,435.72 L478.37,442.46 L479.49,455.95 L480.62,471.69 L481.74,487.44 L482.87,498.68 L483.99,505.43 L485.11,514.42 L486.24,521.17 L487.36,526.79 L488.48,530.16 L489.83,533.53 L490.73,538.03 L491.85,535.78 L492.98,533.53 L494.1,537.36 L495.22,535.11 L496.35,533.53 L497.47,536.46 L498.6,533.53 L499.72,535.11 L500.84,532.41 L501.97,534.21 L503.09,536.46 L504.21,532.41 L505.34,530.16 L505.34,530.5Z" fill="#f1939a" stroke="none"/>
<path d="M381.32,388.97 L381.98,391.61 L382.65,396.9 L383.31,404.84 L383.97,411.46 L384.63,418.07 L385.29,427.33 L385.95,437.91 L386.61,429.97 L387.28,418.07 L387.94,407.49 L388.6,398.23 L389.26,400.87 L389.92,400.21 L390.58,399.55 L391.24,411.46 L391.9,424.68 L392.57,437.91 L392.96,451.14 L393.49,464.37 L394.02,468.33 L394.55,472.3 L395.21,477.59 L395.87,478.92 L396.53,467.01 L397.2,451.14 L397.86,435.26 L398.52,429.97 L399.18,437.91 L399.84,451.14 L400.5,470.98 L401.16,461.72 L401.83,447.17 L402.49,435.26 L403.15,431.3 L403.81,435.26 L404.47,440.56 L405.13,448.49 L405.79,456.43 L406.46,457.09 L407.12,455.11 L407.78,447.17 L408.44,440.56 L409.1,435.26 L409.76,432.62 L410.42,433.94 L411.08,426.01 L411.75,424.68 L412.41,419.39 L413.07,411.46 L413.73,404.84 L414.39,399.55 L415.05,400.87 L415.71,404.84 L416.38,410.13 L417.04,418.07 L417.7,428.65 L418.36,422.04 L419.02,415.42 L419.68,412.78 L420.34,422.04 L421.01,415.42 L421.67,414.1 L422.33,418.07 L422.99,420.71 L423.65,414.1 L424.31,416.75 L424.97,411.46 L425.63,408.81 L426.3,414.1 L426.96,407.49 L427.62,404.84 L428.28,402.2 L428.94,399.55 L429.6,393.6 L430.26,398.23 L430.93,399.55 L431.59,404.84 L432.25,411.46 L432.91,416.75 L433.57,418.07 L434.23,422.04 L434.89,427.33 L435.56,427.33 L436.22,428.65 L436.88,429.97 L437.54,422.04 L438.2,420.71 L438.86,418.07 L439.52,412.78 L440.19,407.49 L440.85,404.84 L441.51,403.52 L442.17,405.5 L443.59,403.52 L443.98,398.23 L444.65,394.26 L445.31,392.94 L445.97,390.29 L446.63,388.97 L447.29,391.61 L447.95,398.23 L448.61,403.52 L449.28,407.49 L449.94,410.13 L450.6,412.78 L451.26,414.1 L451.92,416.75 L452.58,411.46 L453.24,406.16 L453.9,399.55 L454.57,398.23 L455.23,396.9 L455.89,395.58 L456.55,392.94 L457.21,390.29 L457.87,388.97 L458.53,391.61 L459.2,394.26 L459.86,395.58 L460.52,394.26 L461.18,396.9 L461.84,400.87 L462.5,408.81 L463.16,422.04 L463.83,416.75 L464.49,411.46 L465.15,407.49 L465.81,404.84 L466.47,408.81 L467.13,399.55 L467.79,394.92 L468.46,399.55 L469.12,402.2 L469.78,404.84 L470.44,407.49 L471.1,406.16 L471.76,410.13 L472.42,412.78 L473.08,415.42 L473.75,420.71 L474.41,431.3 L475.07,444.52 L475.73,437.91 L476.39,439.23 L477.05,435.26 L477.71,436.59 L478.38,428.65 L479.04,419.39 L479.7,414.1 L480.36,407.49 L481.02,406.16 L481.68,411.46 L482.34,415.42 L483.01,419.39 L483.67,411.46 L484.33,407.49 L484.99,403.52 L485.65,398.23 L486.31,395.58 L486.97,392.94 L487.63,391.61 L488.3,395.58 L488.96,400.87 L489.62,404.84 L490.28,408.81 L490.94,412.78 L491.6,408.81 L492.26,411.46 L492.93,414.1 L493.59,411.46 L494.25,415.42 L494.91,420.71 L495.57,427.33 L496.23,406.16 L496.89,411.46 L497.56,411.46 L498.22,416.75 L498.88,424.68 L499.54,429.97 L500.2,420.71 L500.86,416.75 L501.52,411.46 L502.19,407.49 L502.85,406.16 L503.51,411.46 L504.17,419.39 L504.83,431.3 L505.23,448.49" fill="none" stroke="#111" stroke-width="0.95" stroke-linejoin="round"/>
<path d="M381.29,529.04 L382.87,528.36 L385.11,527.46 L387.36,523.41 L389.61,516.67 L391.85,505.43 L393.43,494.18 L394.78,490.81 L395.67,491.93 L396.57,500.93 L397.47,512.17 L398.6,521.17 L399.72,525.66 L401.97,529.04 L404.21,529.71 L406.46,529.71 L408.71,529.04 L410.96,529.04 L413.2,527.91 L415.45,526.34 L417.7,526.79 L419.94,527.91 L422.19,528.36 L424.44,528.36 L426.69,527.91 L428.93,528.59 L431.18,528.36 L433.43,527.91 L435.67,527.46 L437.92,527.01 L440.17,527.24 L442.42,526.79 L444.66,525.66 L445.79,518.92 L446.91,498.68 L448.03,464.95 L449.16,433.47 L450.06,418.85 L450.96,421.1 L451.85,431.22 L452.75,453.7 L453.65,476.19 L454.78,500.93 L455.9,518.92 L457.02,524.54 L458.15,525.21 L460.39,525.21 L462.64,523.41 L464.44,521.17 L466.01,522.96 L468.26,524.54 L470.51,525.21 L471.63,523.41 L472.75,520.04 L473.88,518.92 L476.12,517.79 L477.92,516.67 L478.82,518.92 L480.17,523.41 L481.74,525.21 L482.87,525.21 L485.11,524.09 L486.24,523.41 L487.36,524.54 L488.48,526.79 L490.73,527.91 L492.98,528.36 L495.22,527.91 L497.47,527.46 L499.72,527.91 L501.97,527.46 L504.21,526.79 L505.34,527.91" fill="none" stroke="#2a2aff" stroke-width="1.0" stroke-linejoin="round"/>
<rect x="447.8" y="385.9" width="6.3" height="144.6" fill="#0000ff" fill-opacity="0.32"/>
<line x1="380.5" y1="386.5" x2="380.5" y2="530.5" stroke="#ff2a2a" stroke-width="1"/>
<line x1="380.5" y1="530.5" x2="373.3" y2="530.5" stroke="#ff2a2a" stroke-width="1"/>
<text x="0" y="0" font-size="15" fill="#ff0000" text-anchor="end" stroke="#ff0000" stroke-width="0.15" transform="translate(370.9 535.4) scale(1 1.04)">50</text>
<line x1="380.5" y1="482.5" x2="373.3" y2="482.5" stroke="#ff2a2a" stroke-width="1"/>
<text x="0" y="0" font-size="15" fill="#ff0000" text-anchor="end" stroke="#ff0000" stroke-width="0.15" transform="translate(370.9 487.4) scale(1 1.04)">100</text>
<line x1="380.5" y1="434.5" x2="373.3" y2="434.5" stroke="#ff2a2a" stroke-width="1"/>
<text x="0" y="0" font-size="15" fill="#ff0000" text-anchor="end" stroke="#ff0000" stroke-width="0.15" transform="translate(370.9 439.4) scale(1 1.04)">150</text>
<line x1="380.5" y1="386.5" x2="373.3" y2="386.5" stroke="#ff2a2a" stroke-width="1"/>
<text x="0" y="0" font-size="15" fill="#ff0000" text-anchor="end" stroke="#ff0000" stroke-width="0.15" transform="translate(370.9 391.4) scale(1 1.04)">200</text>
<line x1="380.5" y1="506.5" x2="376.9" y2="506.5" stroke="#ff2a2a" stroke-width="1"/>
<line x1="380.5" y1="458.5" x2="376.9" y2="458.5" stroke="#ff2a2a" stroke-width="1"/>
<line x1="380.5" y1="410.5" x2="376.9" y2="410.5" stroke="#ff2a2a" stroke-width="1"/>
<line x1="506.5" y1="386.5" x2="506.5" y2="530.5" stroke="#5050ff" stroke-width="1"/>
<line x1="506.5" y1="530.5" x2="513.7" y2="530.5" stroke="#5050ff" stroke-width="1"/>
<text x="0" y="0" font-size="15" fill="#0000ff" text-anchor="start" stroke="#0000ff" stroke-width="0.15" transform="translate(515 535.4) scale(1 1.04)">0</text>
<line x1="506.5" y1="458.5" x2="513.7" y2="458.5" stroke="#5050ff" stroke-width="1"/>
<text x="0" y="0" font-size="15" fill="#0000ff" text-anchor="start" stroke="#0000ff" stroke-width="0.15" transform="translate(515 463.4) scale(1 1.04)">10000</text>
<line x1="506.5" y1="386.5" x2="513.7" y2="386.5" stroke="#5050ff" stroke-width="1"/>
<text x="0" y="0" font-size="15" fill="#0000ff" text-anchor="start" stroke="#0000ff" stroke-width="0.15" transform="translate(515 391.4) scale(1 1.04)">20000</text>
<line x1="506.5" y1="494.5" x2="510.1" y2="494.5" stroke="#5050ff" stroke-width="1"/>
<line x1="506.5" y1="422.5" x2="510.1" y2="422.5" stroke="#5050ff" stroke-width="1"/>
<line x1="607" y1="386.5" x2="607" y2="530.5" stroke="#333" stroke-width="1"/>
<line x1="607" y1="530.5" x2="614.2" y2="530.5" stroke="#333" stroke-width="1"/>
<text x="0" y="0" font-size="15" fill="#000" text-anchor="start" stroke="#000" stroke-width="0.15" transform="translate(615.5 535.4) scale(1 1.04)">0</text>
<line x1="607" y1="482.5" x2="614.2" y2="482.5" stroke="#333" stroke-width="1"/>
<text x="0" y="0" font-size="15" fill="#000" text-anchor="start" stroke="#000" stroke-width="0.15" transform="translate(615.5 487.4) scale(1 1.04)">2</text>
<line x1="607" y1="434.5" x2="614.2" y2="434.5" stroke="#333" stroke-width="1"/>
<text x="0" y="0" font-size="15" fill="#000" text-anchor="start" stroke="#000" stroke-width="0.15" transform="translate(615.5 439.4) scale(1 1.04)">4</text>
<line x1="607" y1="386.5" x2="614.2" y2="386.5" stroke="#333" stroke-width="1"/>
<text x="0" y="0" font-size="15" fill="#000" text-anchor="start" stroke="#000" stroke-width="0.15" transform="translate(615.5 391.4) scale(1 1.04)">6</text>
<line x1="607" y1="506.5" x2="610.6" y2="506.5" stroke="#333" stroke-width="1"/>
<line x1="607" y1="458.5" x2="610.6" y2="458.5" stroke="#333" stroke-width="1"/>
<line x1="607" y1="410.5" x2="610.6" y2="410.5" stroke="#333" stroke-width="1"/>
<line x1="380.5" y1="530.5" x2="506.5" y2="530.5" stroke="#222" stroke-width="1"/>
<line x1="380.5" y1="530.5" x2="380.5" y2="537.7" stroke="#222" stroke-width="1"/>
<text x="0" y="0" font-size="15" fill="#000" text-anchor="middle" stroke="#000" stroke-width="0.15" transform="translate(380.5 552.7) scale(1 1.04)">1595</text>
<line x1="393.1" y1="530.5" x2="393.1" y2="534.1" stroke="#222" stroke-width="1"/>
<line x1="405.7" y1="530.5" x2="405.7" y2="534.1" stroke="#222" stroke-width="1"/>
<line x1="418.3" y1="530.5" x2="418.3" y2="534.1" stroke="#222" stroke-width="1"/>
<line x1="430.9" y1="530.5" x2="430.9" y2="534.1" stroke="#222" stroke-width="1"/>
<line x1="443.5" y1="530.5" x2="443.5" y2="537.7" stroke="#222" stroke-width="1"/>
<text x="0" y="0" font-size="15" fill="#000" text-anchor="middle" stroke="#000" stroke-width="0.15" transform="translate(443.5 552.7) scale(1 1.04)">1600</text>
<line x1="456.1" y1="530.5" x2="456.1" y2="534.1" stroke="#222" stroke-width="1"/>
<line x1="468.7" y1="530.5" x2="468.7" y2="534.1" stroke="#222" stroke-width="1"/>
<line x1="481.3" y1="530.5" x2="481.3" y2="534.1" stroke="#222" stroke-width="1"/>
<line x1="493.9" y1="530.5" x2="493.9" y2="534.1" stroke="#222" stroke-width="1"/>
<line x1="506.5" y1="530.5" x2="506.5" y2="537.7" stroke="#222" stroke-width="1"/>
<text x="0" y="0" font-size="15" fill="#000" text-anchor="middle" stroke="#000" stroke-width="0.15" transform="translate(506.5 552.7) scale(1 1.04)">1605</text>
<path d="M110.28,710.5 L110.28,695.83 L111.8,698.87 L113.33,699.63 L114.85,697.35 L117.13,693.55 L119.41,692.03 L121.7,691.27 L123.98,687.47 L124.74,689.75 L125.96,692.79 L127.48,696.59 L129.31,698.11 L131.59,696.59 L133.11,695.07 L134.63,692.79 L135.7,691.27 L136.91,693.55 L138.44,695.83 L139.96,697.35 L142.24,697.35 L144.52,696.14 L146.81,693.55 L148.33,689.75 L149.85,685.18 L151.37,682.14 L152.89,679.1 L154.42,676.06 L155.94,671.49 L157,666.93 L157.92,657.8 L158.1,600 L158.8,580 L159.6,560.3 L160.5,568 L161.5,578 L162.5,588 L163.7,600 L164.3,609 L166.6,619.8 L168.9,632 L170.4,635 L171.9,639.5 L173.4,645.6 L175,650.2 L176.5,656.3 L178,660.8 L180.28,674.18 L182.53,680.93 L184.78,684.3 L187.02,686.55 L188.6,687.67 L190.39,689.92 L192.64,687.67 L194.44,687.67 L196.01,689.92 L198.26,688.8 L200.51,689.92 L202.75,691.05 L205,692.62 L207.25,691.05 L209.49,692.17 L211.74,698.92 L213.99,700.04 L217.36,698.92 L219.61,685.43 L220.73,684.3 L222.98,684.3 L225.22,685.43 L226.35,689.92 L228.6,694.42 L230.84,691.05 L233.09,692.17 L235.34,693.3 L236.24,693.3 L236.24,710.5Z" fill="#f1939a" stroke="none"/>
<path d="M112.4,594.91 L112.87,599.58 L113.34,593.04 L113.8,589.3 L114.27,591.17 L114.74,588.36 L115.21,589.3 L115.67,593.04 L116.14,591.17 L116.61,593.97 L117.07,597.71 L117.54,595.84 L118.01,593.97 L118.48,593.04 L118.94,594.91 L119.41,593.04 L119.88,593.04 L120.35,596.78 L120.81,600.51 L121.28,602.38 L121.75,605.19 L122.21,606.12 L122.68,602.38 L123.15,599.58 L123.62,597.71 L124.08,595.84 L124.55,596.78 L125.02,600.51 L125.49,605.19 L125.95,606.12 L126.42,604.25 L126.89,600.51 L127.36,601.45 L127.82,597.71 L128.29,594.91 L128.76,593.04 L129.22,592.1 L129.69,593.04 L130.16,589.3 L130.63,588.36 L131.09,591.17 L131.56,592.1 L132.03,593.04 L132.5,594.91 L132.96,596.78 L133.43,600.51 L133.9,601.45 L134.36,598.64 L134.83,596.78 L135.3,597.71 L135.77,595.84 L136.23,593.97 L136.7,594.91 L137.17,595.84 L137.64,593.97 L138.1,592.1 L138.57,590.23 L139.04,589.3 L139.5,588.36 L139.97,587.43 L140.91,586.96 L141.84,586.5 L142.78,586.03 L143.71,586.03 L144.18,586.5 L144.64,589.3 L145.11,590.23 L145.58,588.36 L146.05,585.56 L146.51,581.82 L146.98,578.08 L147.45,576.21 L147.92,574.81 L148.38,574.35 L148.85,575.28 L149.32,579.02 L149.79,583.69 L150.25,589.3 L150.72,593.04 L151.19,595.84 L151.65,598.64 L152.12,602.38 L152.59,599.58 L153.06,596.78 L153.52,594.91 L153.99,593.97 L154.46,593.04 L154.93,594.91 L155.39,596.78 L155.86,593.97 L156.33,595.84 L156.79,597.71 L157.26,599.58 L157.73,600.51 L158.2,598.64 L158.66,597.71 L159.13,601.45 L159.6,598.64 L160.07,596.78 L160.53,594.91 L161,595.84 L161.47,596.78 L161.93,598.64 L162.4,600.51 L162.87,605.19 L163.34,600.51 L163.8,595.84 L164.27,589.3 L164.74,585.56 L165.21,580.89 L165.67,577.15 L166.14,575.28 L166.61,573.88 L167.07,576.21 L167.54,581.82 L168.01,588.36 L168.48,592.1 L168.94,593.04 L169.41,595.84 L169.88,599.58 L170.35,600.98 L170.81,596.78 L171.28,592.1 L171.75,590.23 L172.21,589.77 L172.68,591.17 L173.47,595.84 L173.93,597.71 L174.4,598.64 L174.87,596.78 L175.34,595.84 L175.8,593.04 L176.27,592.1 L176.74,591.17 L177.21,593.04 L177.67,594.91 L178.14,595.84 L178.61,598.64 L179.07,599.58 L179.54,600.51 L180.01,599.58 L180.48,600.51 L180.94,602.38 L181.41,603.32 L181.88,598.64 L182.35,594.91 L182.81,591.17 L183.28,585.56 L183.75,579.95 L184.21,575.28 L184.68,573.41 L185.15,574.35 L185.62,575.28 L186.08,574.35 L186.55,573.41 L187.02,572.48 L187.49,572.94 L187.95,574.35 L188.42,577.15 L188.89,579.95 L189.36,583.69 L189.82,588.36 L190.29,593.04 L190.76,597.71 L191.22,600.51 L191.69,599.58 L196.36,600.05 L201.04,600.51 L205.71,600.98 L209.45,601.45 L209.92,603.32 L210.38,607.99 L210.85,612.66 L211.32,616.4 L211.79,618.27 L212.25,617.34 L212.72,618.27 L213.19,619.21 L213.65,617.34 L214.12,613.6 L214.59,611.73 L215.06,612.66 L215.52,610.79 L215.99,609.86 L216.46,608.93 L216.93,607.99 L217.39,607.06 L217.86,604.25 L218.33,600.51 L218.79,597.71 L219.26,595.84 L219.73,594.91 L220.2,596.78 L220.66,599.58 L221.13,600.51 L221.6,602.38 L222.07,604.25 L222.53,605.19 L223,607.06 L223.47,607.99 L223.93,609.86 L224.4,615.47 L224.87,619.21 L225.34,621.07 L225.8,620.14 L226.27,617.34 L226.74,616.4 L227.21,613.6 L227.67,616.4 L228.14,619.21 L228.61,620.14 L229.07,621.07 L229.54,622.01 L230.01,615.47 L230.48,607.06 L230.94,600.51 L231.41,594.91 L231.88,591.17 L232.35,589.77 L232.81,590.23 L233.28,592.1 L233.75,593.97 L234.21,596.78 L234.68,599.58 L235.15,602.38 L235.62,603.32" fill="none" stroke="#111" stroke-width="0.95" stroke-linejoin="round"/>
<path d="M112.87,703.41 L115.11,702.29 L117.36,698.92 L118.93,693.3 L120.28,696.67 L121.18,703.41 L122.98,704.54 L125.22,704.54 L127.47,705.21 L129.72,702.29 L131.97,701.17 L134.21,698.92 L136.01,680.93 L137.36,670.81 L138.26,674.18 L139.16,683.18 L140.96,684.3 L142.75,683.18 L144.33,686.55 L145.45,694.42 L146.57,696.67 L147.7,694.42 L148.82,680.93 L149.94,665.19 L151.07,650.57 L152.64,647.2 L153.99,649.45 L154.89,642.7 L155.79,640.45 L156.69,649.45 L157.81,667.44 L158.93,685.43 L160.06,698.92 L161.18,703.41 L162.3,701.17 L163.88,701.17 L165.22,695.54 L166.12,689.92 L167.47,692.17 L168.37,696.67 L169.72,702.29 L171.29,703.41 L173.54,703.41 L175.79,702.29 L178.03,702.29 L180.28,701.62 L182.53,698.92 L183.65,687.67 L184.78,679.8 L185.9,683.18 L187.02,692.17 L188.15,696.67 L189.27,698.92 L190.39,700.72 L193.76,701.17 L197.13,701.17 L201.63,701.17 L206.12,701.17 L209.49,701.17 L211.74,703.41 L213.99,705.21 L216.24,706.79 L217.81,704.54 L219.16,696.67 L220.51,694.42 L221.4,695.54 L222.3,701.17 L223.65,704.54 L225.22,706.11 L227.47,706.79 L229.72,704.54 L231.29,696.67 L232.64,692.17 L234.21,693.3 L235.34,698.92 L236.46,703.41" fill="none" stroke="#2a2aff" stroke-width="1.0" stroke-linejoin="round"/>
<rect x="150.2" y="565.9" width="7.9" height="144.6" fill="#0000ff" fill-opacity="0.32"/>
<line x1="111" y1="566.5" x2="111" y2="710.5" stroke="#ff2a2a" stroke-width="1"/>
<line x1="111" y1="710.5" x2="103.8" y2="710.5" stroke="#ff2a2a" stroke-width="1"/>
<text x="0" y="0" font-size="15" fill="#ff0000" text-anchor="end" stroke="#ff0000" stroke-width="0.15" transform="translate(101.4 715.4) scale(1 1.04)">0</text>
<line x1="111" y1="638.5" x2="103.8" y2="638.5" stroke="#ff2a2a" stroke-width="1"/>
<text x="0" y="0" font-size="15" fill="#ff0000" text-anchor="end" stroke="#ff0000" stroke-width="0.15" transform="translate(101.4 643.4) scale(1 1.04)">50</text>
<line x1="111" y1="566.5" x2="103.8" y2="566.5" stroke="#ff2a2a" stroke-width="1"/>
<text x="0" y="0" font-size="15" fill="#ff0000" text-anchor="end" stroke="#ff0000" stroke-width="0.15" transform="translate(101.4 571.4) scale(1 1.04)">100</text>
<line x1="111" y1="674.5" x2="107.4" y2="674.5" stroke="#ff2a2a" stroke-width="1"/>
<line x1="111" y1="602.5" x2="107.4" y2="602.5" stroke="#ff2a2a" stroke-width="1"/>
<line x1="237" y1="566.5" x2="237" y2="710.5" stroke="#5050ff" stroke-width="1"/>
<line x1="237" y1="710.5" x2="244.2" y2="710.5" stroke="#5050ff" stroke-width="1"/>
<text x="0" y="0" font-size="15" fill="#0000ff" text-anchor="start" stroke="#0000ff" stroke-width="0.15" transform="translate(245.5 715.4) scale(1 1.04)">0</text>
<line x1="237" y1="638.5" x2="244.2" y2="638.5" stroke="#5050ff" stroke-width="1"/>
<text x="0" y="0" font-size="15" fill="#0000ff" text-anchor="start" stroke="#0000ff" stroke-width="0.15" transform="translate(245.5 643.4) scale(1 1.04)">2000</text>
<line x1="237" y1="566.5" x2="244.2" y2="566.5" stroke="#5050ff" stroke-width="1"/>
<text x="0" y="0" font-size="15" fill="#0000ff" text-anchor="start" stroke="#0000ff" stroke-width="0.15" transform="translate(245.5 571.4) scale(1 1.04)">4000</text>
<line x1="237" y1="674.5" x2="240.6" y2="674.5" stroke="#5050ff" stroke-width="1"/>
<line x1="237" y1="602.5" x2="240.6" y2="602.5" stroke="#5050ff" stroke-width="1"/>
<line x1="293.5" y1="566.5" x2="293.5" y2="710.5" stroke="#333" stroke-width="1"/>
<line x1="293.5" y1="710.5" x2="300.7" y2="710.5" stroke="#333" stroke-width="1"/>
<text x="0" y="0" font-size="15" fill="#000" text-anchor="start" stroke="#000" stroke-width="0.15" transform="translate(302 715.4) scale(1 1.04)">0</text>
<line x1="293.5" y1="652.9" x2="300.7" y2="652.9" stroke="#333" stroke-width="1"/>
<text x="0" y="0" font-size="15" fill="#000" text-anchor="start" stroke="#000" stroke-width="0.15" transform="translate(302 657.8) scale(1 1.04)">2</text>
<line x1="293.5" y1="595.3" x2="300.7" y2="595.3" stroke="#333" stroke-width="1"/>
<text x="0" y="0" font-size="15" fill="#000" text-anchor="start" stroke="#000" stroke-width="0.15" transform="translate(302 600.2) scale(1 1.04)">4</text>
<line x1="293.5" y1="681.7" x2="297.1" y2="681.7" stroke="#333" stroke-width="1"/>
<line x1="293.5" y1="624.1" x2="297.1" y2="624.1" stroke="#333" stroke-width="1"/>
<line x1="293.5" y1="566.5" x2="297.1" y2="566.5" stroke="#333" stroke-width="1"/>
<line x1="111" y1="710.5" x2="237" y2="710.5" stroke="#222" stroke-width="1"/>
<line x1="111" y1="710.5" x2="111" y2="717.7" stroke="#222" stroke-width="1"/>
<text x="0" y="0" font-size="15" fill="#000" text-anchor="middle" stroke="#000" stroke-width="0.15" transform="translate(111 732.7) scale(1 1.04)">1255</text>
<line x1="123.6" y1="710.5" x2="123.6" y2="714.1" stroke="#222" stroke-width="1"/>
<line x1="136.2" y1="710.5" x2="136.2" y2="714.1" stroke="#222" stroke-width="1"/>
<line x1="148.8" y1="710.5" x2="148.8" y2="714.1" stroke="#222" stroke-width="1"/>
<line x1="161.4" y1="710.5" x2="161.4" y2="714.1" stroke="#222" stroke-width="1"/>
<line x1="174" y1="710.5" x2="174" y2="717.7" stroke="#222" stroke-width="1"/>
<text x="0" y="0" font-size="15" fill="#000" text-anchor="middle" stroke="#000" stroke-width="0.15" transform="translate(174 732.7) scale(1 1.04)">1260</text>
<line x1="186.6" y1="710.5" x2="186.6" y2="714.1" stroke="#222" stroke-width="1"/>
<line x1="199.2" y1="710.5" x2="199.2" y2="714.1" stroke="#222" stroke-width="1"/>
<line x1="211.8" y1="710.5" x2="211.8" y2="714.1" stroke="#222" stroke-width="1"/>
<line x1="224.4" y1="710.5" x2="224.4" y2="714.1" stroke="#222" stroke-width="1"/>
<line x1="237" y1="710.5" x2="237" y2="717.7" stroke="#222" stroke-width="1"/>
<text x="0" y="0" font-size="15" fill="#000" text-anchor="middle" stroke="#000" stroke-width="0.15" transform="translate(237 732.7) scale(1 1.04)">1265</text>
<path d="M381.29,710.5 L381.29,702.29 L383.99,702.29 L387.36,702.96 L390.73,702.29 L394.1,702.96 L397.47,703.41 L399.72,702.29 L403.09,703.41 L406.46,702.29 L408.71,701.17 L410.96,700.04 L413.2,698.92 L415.45,696.67 L417.7,689.92 L418.82,680.93 L419.94,662.94 L421.07,640.45 L422.19,617.96 L423.31,599.97 L424.44,586.48 L425.56,577.49 L426.69,571.87 L427.81,568.49 L428.93,567.37 L430.06,566.69 L431.18,567.37 L432.3,569.62 L433.43,575.24 L434.55,588.73 L435.67,611.22 L436.8,633.7 L437.92,656.19 L439.04,674.18 L440.17,687.67 L441.29,695.54 L442.42,696.67 L444.66,695.54 L446.91,694.87 L449.16,695.54 L451.4,696.67 L453.65,698.47 L455.9,700.04 L458.15,700.72 L460.39,701.17 L462.64,702.29 L464.89,703.41 L467.13,702.29 L469.38,700.72 L471.63,698.92 L473.88,697.12 L476.12,695.54 L478.37,696.22 L480.62,697.12 L482.87,696.67 L485.11,695.54 L487.36,694.87 L489.61,695.54 L491.85,694.42 L494.1,695.54 L496.35,694.42 L498.6,694.87 L500.84,693.97 L503.09,692.62 L504.89,693.3 L504.89,710.5Z" fill="#f1939a" stroke="none"/>
<path d="M382.91,613.94 L383.31,608.65 L383.97,606.01 L384.63,604.68 L385.29,606.01 L385.95,603.36 L386.61,603.36 L387.28,602.04 L387.94,600.71 L388.6,598.07 L389.26,600.71 L389.92,603.36 L390.58,598.07 L391.24,591.46 L391.9,583.52 L392.57,582.2 L393.23,583.52 L393.89,591.46 L394.55,602.04 L395.21,609.97 L395.87,604.68 L396.53,591.46 L397.2,578.23 L397.86,571.61 L398.52,570.29 L399.18,572.94 L399.84,571.61 L400.5,574.26 L401.16,579.55 L401.83,591.46 L402.49,602.04 L403.15,607.33 L403.81,591.46 L404.47,588.81 L405.13,594.1 L405.79,599.39 L406.46,600.71 L407.12,598.07 L407.78,604.68 L408.44,607.33 L409.1,612.62 L409.76,620.56 L410.42,629.81 L411.08,617.91 L411.75,604.68 L412.41,591.46 L413.07,592.78 L413.73,599.39 L414.39,604.68 L415.05,602.04 L415.71,595.42 L416.38,592.78 L417.04,602.04 L417.7,604.68 L418.36,604.68 L419.02,615.26 L419.68,625.85 L420.34,633.78 L421.01,644.37 L421.67,650.98 L422.33,644.37 L422.99,633.78 L423.65,623.2 L424.31,612.62 L424.97,602.04 L425.63,594.1 L426.3,591.46 L426.96,590.79 L427.62,592.78 L428.28,598.07 L428.94,608.65 L429.6,620.56 L430.26,629.81 L430.93,623.2 L431.59,612.62 L432.25,598.07 L432.91,586.16 L433.57,583.52 L434.23,591.46 L434.89,599.39 L435.56,606.01 L436.22,598.07 L436.88,584.84 L437.54,575.58 L438.2,570.29 L438.86,584.84 L439.52,591.46 L440.19,592.78 L440.85,591.46 L441.51,602.04 L442,604.68 L442.66,598.07 L443.32,584.84 L443.98,578.23 L444.65,576.9 L445.31,582.2 L445.97,591.46 L446.63,595.42 L447.29,592.78 L447.95,590.13 L448.61,594.1 L449.28,602.04 L449.94,608.65 L450.6,611.3 L451.26,604.68 L451.92,599.39 L452.58,602.04 L453.24,608.65 L453.9,615.26 L454.57,617.91 L455.23,613.94 L455.89,611.3 L456.55,609.97 L457.21,602.04 L457.87,591.46 L458.53,582.2 L459.2,586.16 L459.86,588.81 L460.52,590.13 L461.18,594.1 L461.84,602.04 L462.5,609.97 L463.16,615.26 L463.83,617.91 L464.49,631.14 L465.15,617.91 L465.81,615.26 L466.47,611.3 L467.13,603.36 L467.79,596.75 L468.46,592.78 L469.12,589.47 L469.78,592.78 L470.44,595.42 L471.1,596.75 L471.76,595.42 L472.42,599.39 L473.08,602.04 L473.75,600.71 L474.41,599.39 L475.07,602.04 L475.73,604.68 L476.39,607.33 L477.05,613.94 L477.71,607.33 L478.38,611.3 L479.04,616.59 L479.7,621.88 L480.36,624.52 L481.02,620.56 L481.68,617.91 L482.34,615.26 L483.01,616.59 L483.67,613.94 L484.33,617.91 L484.99,608.65 L485.65,602.04 L486.31,596.75 L486.97,595.42 L487.63,594.1 L488.3,592.78 L488.96,590.13 L489.62,586.16 L490.28,582.2 L490.94,584.84 L491.6,591.46 L492.26,598.07 L492.93,602.04 L493.59,606.01 L494.25,608.65 L494.91,612.62 L495.57,615.26 L496.23,604.68 L496.89,599.39 L497.56,604.68 L498.22,606.01 L498.88,607.33 L499.54,607.33 L500.2,602.04 L500.86,598.07 L501.52,596.75 L502.19,599.39 L502.85,600.71 L503.51,599.39 L504.17,599.39" fill="none" stroke="#111" stroke-width="0.95" stroke-linejoin="round"/>
<path d="M381.29,709.71 L382.87,709.04 L385.11,707.46 L387.36,705.66 L389.61,703.41 L391.85,703.86 L393.43,705.21 L395.22,706.11 L397.47,705.66 L399.27,703.41 L400.17,700.04 L401.07,700.04 L401.97,703.41 L403.09,704.54 L404.21,701.17 L405.34,704.54 L406.46,706.11 L408.26,703.41 L409.16,698.92 L409.83,689.92 L410.51,684.98 L411.4,685.43 L412.08,692.17 L412.75,698.92 L414.33,700.04 L415.45,700.04 L416.57,694.42 L417.7,680.93 L418.82,667.44 L419.94,661.81 L421.07,662.94 L422.19,671.93 L423.31,685.43 L424.44,695.54 L425.56,700.04 L427.81,703.41 L430.06,706.11 L432.3,707.91 L434.55,707.46 L436.8,706.79 L438.37,705.66 L439.72,706.11 L440.62,703.41 L441.52,706.79 L443.54,706.79 L446.91,706.11 L450.28,706.11 L452.53,705.66 L454.78,705.21 L457.02,704.54 L459.27,703.41 L461.52,704.54 L463.76,702.96 L464.89,701.17 L467.13,700.72 L469.38,700.72 L471.63,701.17 L473.88,703.41 L476.12,706.11 L478.37,705.21 L480.62,703.41 L482.87,703.86 L485.11,705.66 L487.36,707.91 L489.61,708.36 L491.85,707.91 L494.1,706.79 L496.35,704.54 L498.6,702.29 L499.72,703.41 L500.84,704.54 L503.09,703.86 L504.89,703.41" fill="none" stroke="#2a2aff" stroke-width="1.0" stroke-linejoin="round"/>
<rect x="418.4" y="565.9" width="6.7" height="144.6" fill="#0000ff" fill-opacity="0.32"/>
<line x1="380.5" y1="566.5" x2="380.5" y2="710.5" stroke="#ff2a2a" stroke-width="1"/>
<line x1="380.5" y1="710.5" x2="373.3" y2="710.5" stroke="#ff2a2a" stroke-width="1"/>
<text x="0" y="0" font-size="15" fill="#ff0000" text-anchor="end" stroke="#ff0000" stroke-width="0.15" transform="translate(370.9 715.4) scale(1 1.04)">0</text>
<line x1="380.5" y1="662.5" x2="373.3" y2="662.5" stroke="#ff2a2a" stroke-width="1"/>
<text x="0" y="0" font-size="15" fill="#ff0000" text-anchor="end" stroke="#ff0000" stroke-width="0.15" transform="translate(370.9 667.4) scale(1 1.04)">200</text>
<line x1="380.5" y1="614.5" x2="373.3" y2="614.5" stroke="#ff2a2a" stroke-width="1"/>
<text x="0" y="0" font-size="15" fill="#ff0000" text-anchor="end" stroke="#ff0000" stroke-width="0.15" transform="translate(370.9 619.4) scale(1 1.04)">400</text>
<line x1="380.5" y1="566.5" x2="373.3" y2="566.5" stroke="#ff2a2a" stroke-width="1"/>
<text x="0" y="0" font-size="15" fill="#ff0000" text-anchor="end" stroke="#ff0000" stroke-width="0.15" transform="translate(370.9 571.4) scale(1 1.04)">600</text>
<line x1="380.5" y1="686.5" x2="376.9" y2="686.5" stroke="#ff2a2a" stroke-width="1"/>
<line x1="380.5" y1="638.5" x2="376.9" y2="638.5" stroke="#ff2a2a" stroke-width="1"/>
<line x1="380.5" y1="590.5" x2="376.9" y2="590.5" stroke="#ff2a2a" stroke-width="1"/>
<line x1="506.5" y1="566.5" x2="506.5" y2="710.5" stroke="#5050ff" stroke-width="1"/>
<line x1="506.5" y1="710.5" x2="513.7" y2="710.5" stroke="#5050ff" stroke-width="1"/>
<text x="0" y="0" font-size="15" fill="#0000ff" text-anchor="start" stroke="#0000ff" stroke-width="0.15" transform="translate(515 715.4) scale(1 1.04)">0</text>
<line x1="506.5" y1="638.5" x2="513.7" y2="638.5" stroke="#5050ff" stroke-width="1"/>
<text x="0" y="0" font-size="15" fill="#0000ff" text-anchor="start" stroke="#0000ff" stroke-width="0.15" transform="translate(515 643.4) scale(1 1.04)">5000</text>
<line x1="506.5" y1="566.5" x2="513.7" y2="566.5" stroke="#5050ff" stroke-width="1"/>
<text x="0" y="0" font-size="15" fill="#0000ff" text-anchor="start" stroke="#0000ff" stroke-width="0.15" transform="translate(515 571.4) scale(1 1.04)">10000</text>
<line x1="506.5" y1="674.5" x2="510.1" y2="674.5" stroke="#5050ff" stroke-width="1"/>
<line x1="506.5" y1="602.5" x2="510.1" y2="602.5" stroke="#5050ff" stroke-width="1"/>
<line x1="607" y1="566.5" x2="607" y2="710.5" stroke="#333" stroke-width="1"/>
<line x1="607" y1="710.5" x2="614.2" y2="710.5" stroke="#333" stroke-width="1"/>
<text x="0" y="0" font-size="15" fill="#000" text-anchor="start" stroke="#000" stroke-width="0.15" transform="translate(615.5 715.4) scale(1 1.04)">0</text>
<line x1="607" y1="662.5" x2="614.2" y2="662.5" stroke="#333" stroke-width="1"/>
<text x="0" y="0" font-size="15" fill="#000" text-anchor="start" stroke="#000" stroke-width="0.15" transform="translate(615.5 667.4) scale(1 1.04)">2</text>
<line x1="607" y1="614.5" x2="614.2" y2="614.5" stroke="#333" stroke-width="1"/>
<text x="0" y="0" font-size="15" fill="#000" text-anchor="start" stroke="#000" stroke-width="0.15" transform="translate(615.5 619.4) scale(1 1.04)">4</text>
<line x1="607" y1="566.5" x2="614.2" y2="566.5" stroke="#333" stroke-width="1"/>
<text x="0" y="0" font-size="15" fill="#000" text-anchor="start" stroke="#000" stroke-width="0.15" transform="translate(615.5 571.4) scale(1 1.04)">6</text>
<line x1="607" y1="686.5" x2="610.6" y2="686.5" stroke="#333" stroke-width="1"/>
<line x1="607" y1="638.5" x2="610.6" y2="638.5" stroke="#333" stroke-width="1"/>
<line x1="607" y1="590.5" x2="610.6" y2="590.5" stroke="#333" stroke-width="1"/>
<line x1="380.5" y1="710.5" x2="506.5" y2="710.5" stroke="#222" stroke-width="1"/>
<line x1="380.5" y1="710.5" x2="380.5" y2="717.7" stroke="#222" stroke-width="1"/>
<text x="0" y="0" font-size="15" fill="#000" text-anchor="middle" stroke="#000" stroke-width="0.15" transform="translate(380.5 732.7) scale(1 1.04)">1255</text>
<line x1="393.1" y1="710.5" x2="393.1" y2="714.1" stroke="#222" stroke-width="1"/>
<line x1="405.7" y1="710.5" x2="405.7" y2="714.1" stroke="#222" stroke-width="1"/>
<line x1="418.3" y1="710.5" x2="418.3" y2="714.1" stroke="#222" stroke-width="1"/>
<line x1="430.9" y1="710.5" x2="430.9" y2="714.1" stroke="#222" stroke-width="1"/>
<line x1="443.5" y1="710.5" x2="443.5" y2="717.7" stroke="#222" stroke-width="1"/>
<text x="0" y="0" font-size="15" fill="#000" text-anchor="middle" stroke="#000" stroke-width="0.15" transform="translate(443.5 732.7) scale(1 1.04)">1260</text>
<line x1="456.1" y1="710.5" x2="456.1" y2="714.1" stroke="#222" stroke-width="1"/>
<line x1="468.7" y1="710.5" x2="468.7" y2="714.1" stroke="#222" stroke-width="1"/>
<line x1="481.3" y1="710.5" x2="481.3" y2="714.1" stroke="#222" stroke-width="1"/>
<line x1="493.9" y1="710.5" x2="493.9" y2="714.1" stroke="#222" stroke-width="1"/>
<line x1="506.5" y1="710.5" x2="506.5" y2="717.7" stroke="#222" stroke-width="1"/>
<text x="0" y="0" font-size="15" fill="#000" text-anchor="middle" stroke="#000" stroke-width="0.15" transform="translate(506.5 732.7) scale(1 1.04)">1265</text>
<rect x="111.5" y="385" width="124.2" height="147.5" fill="none" stroke="#333" stroke-width="1"/>
<text x="0" y="0" font-size="17.5" fill="#000" text-anchor="middle" font-weight="bold" transform="translate(171.7 442.3) scale(1 1.04)">No</text>
<text x="0" y="0" font-size="17.5" fill="#000" text-anchor="middle" font-weight="bold" transform="translate(173.7 461.9) scale(1 1.04)">particle</text>
<text x="0" y="0" font-size="17.5" fill="#000" text-anchor="middle" font-weight="bold" transform="translate(173.7 481.8) scale(1 1.04)">data</text>
<text x="0" y="0" font-size="20" fill="#000" text-anchor="middle" font-weight="bold" transform="translate(16.2 99.2) rotate(-90) scale(1 1.04)">Unknown</text>
<text x="0" y="0" font-size="20" fill="#000" text-anchor="middle" font-weight="bold" transform="translate(37.8 99.2) rotate(-90) scale(1 1.04)">1458/59 CE</text>
<text x="0" y="0" font-size="19.4" fill="#000" text-anchor="middle" font-weight="bold" transform="translate(23.8 279.3) rotate(-90) scale(1 1.04)">Tambora</text>
<text x="0" y="0" font-size="19.4" fill="#000" text-anchor="middle" font-weight="bold" transform="translate(46.6 279.3) rotate(-90) scale(1 1.04)">1815 CE</text>
<text x="0" y="0" font-size="19.7" fill="#000" text-anchor="middle" font-weight="bold" transform="translate(44.7 458.4) rotate(-90) scale(1 1.04)">Huaynaputina</text>
<text x="0" y="0" font-size="19.7" fill="#000" text-anchor="middle" font-weight="bold" transform="translate(68 458.4) rotate(-90) scale(1 1.04)">1600 CE</text>
<text x="0" y="0" font-size="19.85" fill="#000" text-anchor="middle" font-weight="bold" transform="translate(16.2 638.2) rotate(-90) scale(1 1.04)">Samalas</text>
<text x="0" y="0" font-size="19.85" fill="#000" text-anchor="middle" font-weight="bold" transform="translate(38.4 638.2) rotate(-90) scale(1 1.04)">1257 CE</text>
<text x="0" y="0" font-size="17.5" fill="#ff0000" text-anchor="middle" font-weight="bold" transform="translate(71.8 98.7) rotate(-90) scale(1 1.04)">nssS (ppb)</text>
<text x="0" y="0" font-size="17.5" fill="#ff0000" text-anchor="middle" font-weight="bold" transform="translate(79.9 278.5) rotate(-90) scale(1 1.04)">nssS (ppb)</text>
<text x="0" y="0" font-size="17.5" fill="#ff0000" text-anchor="middle" font-weight="bold" transform="translate(71.5 637.8) rotate(-90) scale(1 1.04)">nssS (ppb)</text>
<text x="0" y="0" font-size="17.5" fill="#ff0000" text-anchor="middle" font-weight="bold" transform="translate(338.7 99.5) rotate(-90) scale(1 1.04)">nssSO<tspan font-size="11" dy="4">4</tspan><tspan dy="-4"> (ppb)</tspan></text>
<text x="0" y="0" font-size="17.5" fill="#0000ff" text-anchor="middle" font-weight="bold" transform="translate(573 99.5) rotate(-90) scale(1 1.04)">Particle concn.</text>
<text x="0" y="0" font-size="17.5" fill="#0000ff" text-anchor="middle" font-weight="bold" transform="translate(592 99.5) rotate(-90) scale(1 1.04)">(#/mL)</text>
<text x="0" y="0" font-size="17.5" fill="#000" text-anchor="middle" font-weight="bold" transform="translate(641 99.5) rotate(-90) scale(1 1.04)">Particle</text>
<text x="0" y="0" font-size="17.5" fill="#000" text-anchor="middle" font-weight="bold" transform="translate(660 99.5) rotate(-90) scale(1 1.04)">mode diameter</text>
<text x="0" y="0" font-size="17.5" fill="#000" text-anchor="middle" font-weight="bold" transform="translate(679.5 99.5) rotate(-90) scale(1 1.04)">(µm)</text>
<text x="0" y="0" font-size="17.5" fill="#ff0000" text-anchor="middle" font-weight="bold" transform="translate(338.7 279.5) rotate(-90) scale(1 1.04)">nssSO<tspan font-size="11" dy="4">4</tspan><tspan dy="-4"> (ppb)</tspan></text>
<text x="0" y="0" font-size="17.5" fill="#0000ff" text-anchor="middle" font-weight="bold" transform="translate(573 279.5) rotate(-90) scale(1 1.04)">Particle concn.</text>
<text x="0" y="0" font-size="17.5" fill="#0000ff" text-anchor="middle" font-weight="bold" transform="translate(592 279.5) rotate(-90) scale(1 1.04)">(#/mL)</text>
<text x="0" y="0" font-size="17.5" fill="#000" text-anchor="middle" font-weight="bold" transform="translate(641 279.5) rotate(-90) scale(1 1.04)">Particle</text>
<text x="0" y="0" font-size="17.5" fill="#000" text-anchor="middle" font-weight="bold" transform="translate(660 279.5) rotate(-90) scale(1 1.04)">mode diameter</text>
<text x="0" y="0" font-size="17.5" fill="#000" text-anchor="middle" font-weight="bold" transform="translate(679.5 279.5) rotate(-90) scale(1 1.04)">(µm)</text>
<text x="0" y="0" font-size="17.5" fill="#ff0000" text-anchor="middle" font-weight="bold" transform="translate(338.7 458.5) rotate(-90) scale(1 1.04)">nssSO<tspan font-size="11" dy="4">4</tspan><tspan dy="-4"> (ppb)</tspan></text>
<text x="0" y="0" font-size="17.5" fill="#0000ff" text-anchor="middle" font-weight="bold" transform="translate(573 458.5) rotate(-90) scale(1 1.04)">Particle concn.</text>
<text x="0" y="0" font-size="17.5" fill="#0000ff" text-anchor="middle" font-weight="bold" transform="translate(592 458.5) rotate(-90) scale(1 1.04)">(#/mL)</text>
<text x="0" y="0" font-size="17.5" fill="#000" text-anchor="middle" font-weight="bold" transform="translate(641 458.5) rotate(-90) scale(1 1.04)">Particle</text>
<text x="0" y="0" font-size="17.5" fill="#000" text-anchor="middle" font-weight="bold" transform="translate(660 458.5) rotate(-90) scale(1 1.04)">mode diameter</text>
<text x="0" y="0" font-size="17.5" fill="#000" text-anchor="middle" font-weight="bold" transform="translate(679.5 458.5) rotate(-90) scale(1 1.04)">(µm)</text>
<text x="0" y="0" font-size="17.5" fill="#ff0000" text-anchor="middle" font-weight="bold" transform="translate(338.7 638.5) rotate(-90) scale(1 1.04)">nssSO<tspan font-size="11" dy="4">4</tspan><tspan dy="-4"> (ppb)</tspan></text>
<text x="0" y="0" font-size="17.5" fill="#0000ff" text-anchor="middle" font-weight="bold" transform="translate(573 638.5) rotate(-90) scale(1 1.04)">Particle concn.</text>
<text x="0" y="0" font-size="17.5" fill="#0000ff" text-anchor="middle" font-weight="bold" transform="translate(592 638.5) rotate(-90) scale(1 1.04)">(#/mL)</text>
<text x="0" y="0" font-size="17.5" fill="#000" text-anchor="middle" font-weight="bold" transform="translate(641 638.5) rotate(-90) scale(1 1.04)">Particle</text>
<text x="0" y="0" font-size="17.5" fill="#000" text-anchor="middle" font-weight="bold" transform="translate(660 638.5) rotate(-90) scale(1 1.04)">mode diameter</text>
<text x="0" y="0" font-size="17.5" fill="#000" text-anchor="middle" font-weight="bold" transform="translate(679.5 638.5) rotate(-90) scale(1 1.04)">(µm)</text>
<text x="0" y="0" font-size="17.7" fill="#000" text-anchor="middle" font-weight="bold" transform="translate(172.9 751.3) scale(1 1.04)">Year (CE)</text>
<text x="0" y="0" font-size="17.7" fill="#000" text-anchor="middle" font-weight="bold" transform="translate(442.3 751.3) scale(1 1.04)">Year (CE)</text>
</svg>
</body></html>
